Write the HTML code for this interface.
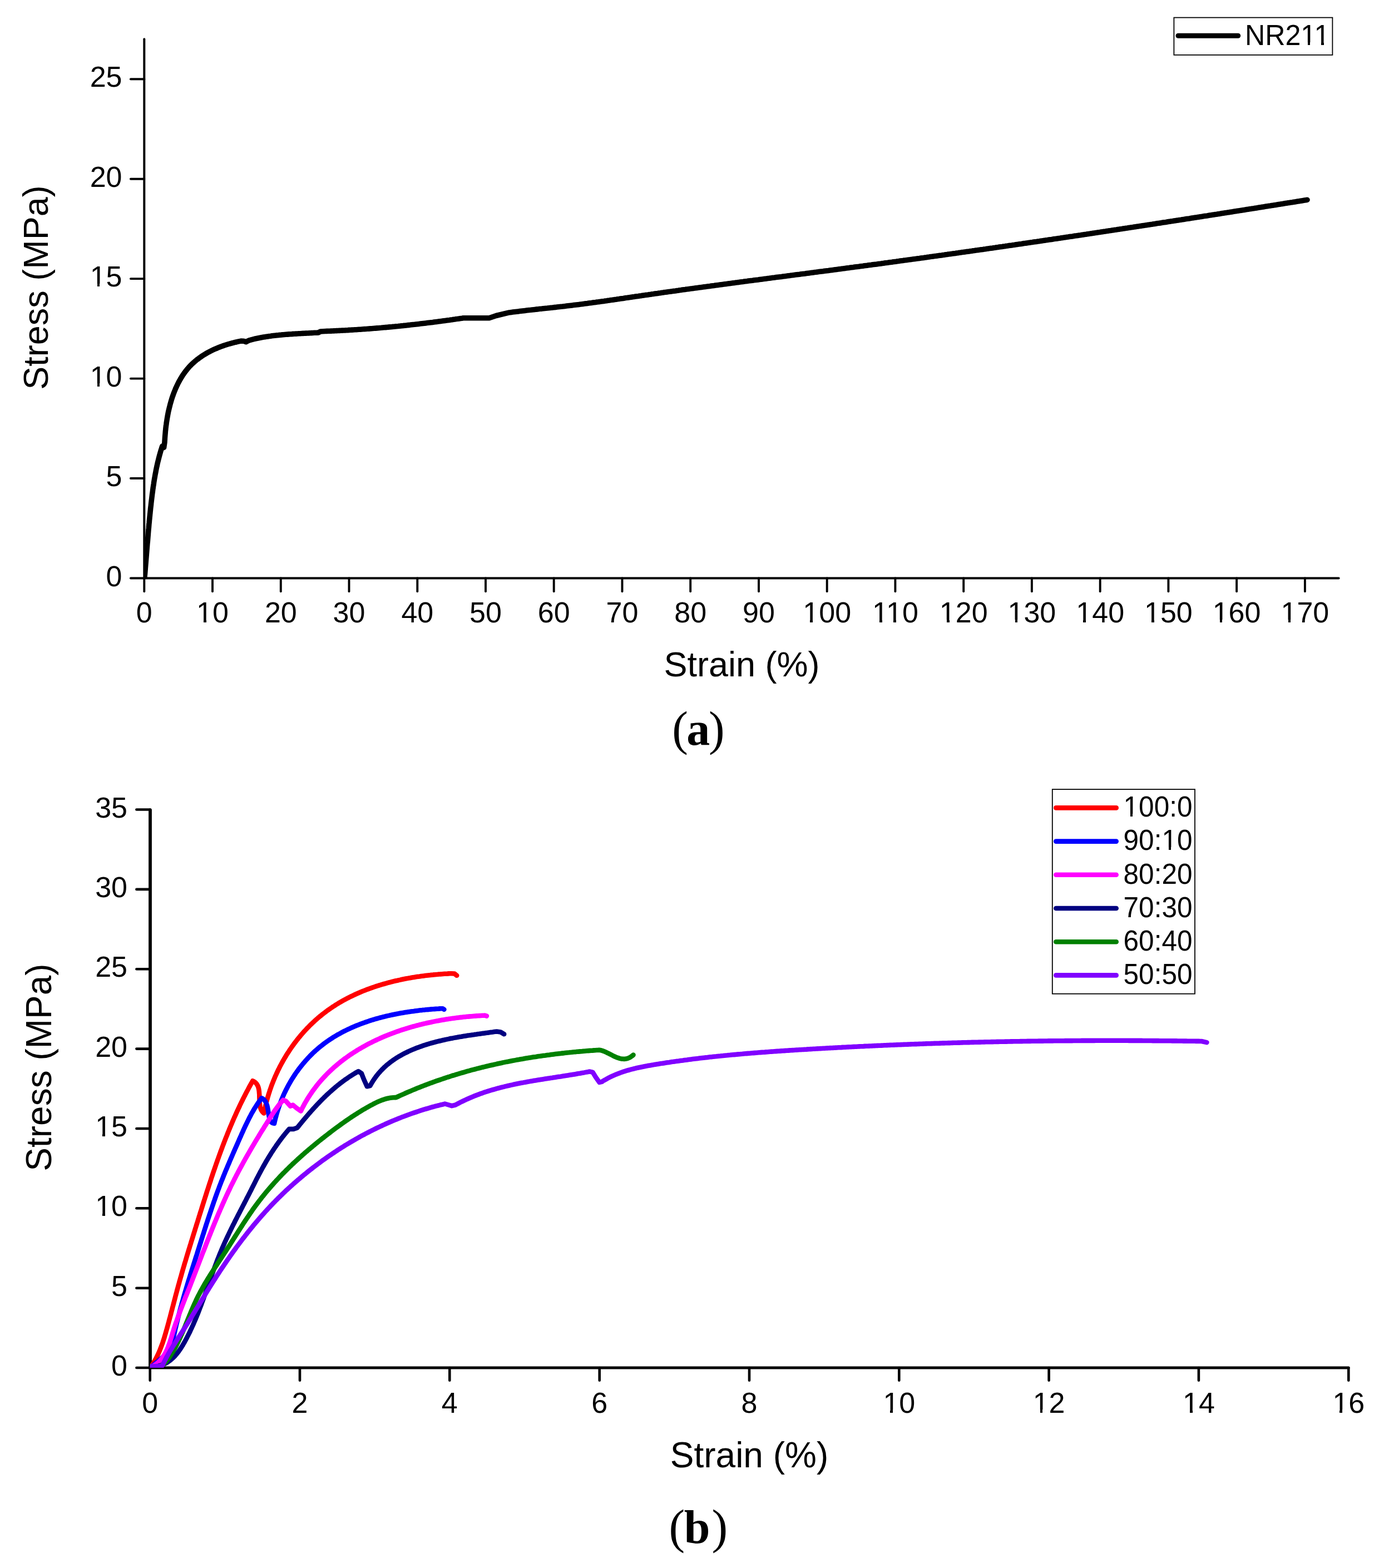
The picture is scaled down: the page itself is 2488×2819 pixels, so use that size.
<!DOCTYPE html><html><head><meta charset="utf-8"><title>Stress-strain curves</title>
<style>html,body{margin:0;padding:0;background:#fff;}svg{display:block;}.t{font-family:"Liberation Sans",Arial,sans-serif;fill:#000;}.c{font-family:"Liberation Serif","Times New Roman",serif;fill:#000;}</style></head><body>
<svg width="2488" height="2819" viewBox="0 0 2488 2819">
<rect width="2488" height="2819" fill="#fff"/>
<defs><clipPath id="ca"><rect x="259.3" y="40" width="2149.3" height="999.5"/></clipPath><clipPath id="cb"><rect x="269.7" y="1400" width="2164.5" height="1059.0"/></clipPath></defs>
<g id="chart-a">
<g stroke="#000" stroke-linecap="round" fill="none">
<line x1="259.3" y1="70.2" x2="259.3" y2="1039.5" stroke-width="4.0"/>
<line x1="259.3" y1="1039.5" x2="2406.6" y2="1039.5" stroke-width="4.0"/>
<line x1="234.9" y1="1039.5" x2="259.3" y2="1039.5" stroke-width="3.9"/>
<line x1="234.9" y1="860.0" x2="259.3" y2="860.0" stroke-width="3.9"/>
<line x1="234.9" y1="680.6" x2="259.3" y2="680.6" stroke-width="3.9"/>
<line x1="234.9" y1="501.1" x2="259.3" y2="501.1" stroke-width="3.9"/>
<line x1="234.9" y1="321.7" x2="259.3" y2="321.7" stroke-width="3.9"/>
<line x1="234.9" y1="142.2" x2="259.3" y2="142.2" stroke-width="3.9"/>
<line x1="259.3" y1="1039.5" x2="259.3" y2="1063.3" stroke-width="3.9"/>
<line x1="382.0" y1="1039.5" x2="382.0" y2="1063.3" stroke-width="3.9"/>
<line x1="504.8" y1="1039.5" x2="504.8" y2="1063.3" stroke-width="3.9"/>
<line x1="627.5" y1="1039.5" x2="627.5" y2="1063.3" stroke-width="3.9"/>
<line x1="750.3" y1="1039.5" x2="750.3" y2="1063.3" stroke-width="3.9"/>
<line x1="873.0" y1="1039.5" x2="873.0" y2="1063.3" stroke-width="3.9"/>
<line x1="995.7" y1="1039.5" x2="995.7" y2="1063.3" stroke-width="3.9"/>
<line x1="1118.5" y1="1039.5" x2="1118.5" y2="1063.3" stroke-width="3.9"/>
<line x1="1241.2" y1="1039.5" x2="1241.2" y2="1063.3" stroke-width="3.9"/>
<line x1="1364.0" y1="1039.5" x2="1364.0" y2="1063.3" stroke-width="3.9"/>
<line x1="1486.7" y1="1039.5" x2="1486.7" y2="1063.3" stroke-width="3.9"/>
<line x1="1609.4" y1="1039.5" x2="1609.4" y2="1063.3" stroke-width="3.9"/>
<line x1="1732.2" y1="1039.5" x2="1732.2" y2="1063.3" stroke-width="3.9"/>
<line x1="1854.9" y1="1039.5" x2="1854.9" y2="1063.3" stroke-width="3.9"/>
<line x1="1977.7" y1="1039.5" x2="1977.7" y2="1063.3" stroke-width="3.9"/>
<line x1="2100.4" y1="1039.5" x2="2100.4" y2="1063.3" stroke-width="3.9"/>
<line x1="2223.1" y1="1039.5" x2="2223.1" y2="1063.3" stroke-width="3.9"/>
<line x1="2345.9" y1="1039.5" x2="2345.9" y2="1063.3" stroke-width="3.9"/>
</g>
<text class="t" x="219.5" y="1053.5" font-size="52" text-anchor="end">0</text>
<text class="t" x="219.5" y="874.0" font-size="52" text-anchor="end">5</text>
<text class="t" x="219.5" y="694.6" font-size="52" text-anchor="end">10</text>
<text class="t" x="219.5" y="515.1" font-size="52" text-anchor="end">15</text>
<text class="t" x="219.5" y="335.7" font-size="52" text-anchor="end">20</text>
<text class="t" x="219.5" y="156.2" font-size="52" text-anchor="end">25</text>
<text class="t" x="259.3" y="1118.7" font-size="52" text-anchor="middle">0</text>
<text class="t" x="382.0" y="1118.7" font-size="52" text-anchor="middle">10</text>
<text class="t" x="504.8" y="1118.7" font-size="52" text-anchor="middle">20</text>
<text class="t" x="627.5" y="1118.7" font-size="52" text-anchor="middle">30</text>
<text class="t" x="750.3" y="1118.7" font-size="52" text-anchor="middle">40</text>
<text class="t" x="873.0" y="1118.7" font-size="52" text-anchor="middle">50</text>
<text class="t" x="995.7" y="1118.7" font-size="52" text-anchor="middle">60</text>
<text class="t" x="1118.5" y="1118.7" font-size="52" text-anchor="middle">70</text>
<text class="t" x="1241.2" y="1118.7" font-size="52" text-anchor="middle">80</text>
<text class="t" x="1364.0" y="1118.7" font-size="52" text-anchor="middle">90</text>
<text class="t" x="1486.7" y="1118.7" font-size="52" text-anchor="middle">100</text>
<text class="t" x="1609.4" y="1118.7" font-size="52" text-anchor="middle">110</text>
<text class="t" x="1732.2" y="1118.7" font-size="52" text-anchor="middle">120</text>
<text class="t" x="1854.9" y="1118.7" font-size="52" text-anchor="middle">130</text>
<text class="t" x="1977.7" y="1118.7" font-size="52" text-anchor="middle">140</text>
<text class="t" x="2100.4" y="1118.7" font-size="52" text-anchor="middle">150</text>
<text class="t" x="2223.1" y="1118.7" font-size="52" text-anchor="middle">160</text>
<text class="t" x="2345.9" y="1118.7" font-size="52" text-anchor="middle">170</text>
<polyline clip-path="url(#ca)" points="259.8,1039.0 260.0,1036.5 260.2,1034.1 260.5,1031.6 260.7,1029.1 260.9,1026.6 261.1,1024.2 261.3,1021.7 261.5,1019.2 261.7,1016.7 261.9,1014.2 262.1,1011.8 262.3,1009.3 262.5,1006.8 262.7,1004.3 262.9,1001.8 263.1,999.3 263.3,996.9 263.5,994.4 263.7,991.9 263.9,989.4 264.1,986.9 264.3,984.4 264.5,981.9 264.7,979.4 264.9,976.9 265.2,974.5 265.4,972.0 265.6,969.5 265.8,967.0 266.0,964.5 266.2,962.0 266.4,959.5 266.6,957.0 266.8,954.5 267.0,952.0 267.3,949.5 267.5,947.0 267.7,944.5 267.9,942.0 268.2,939.5 268.4,937.1 268.6,934.6 268.9,932.1 269.1,929.6 269.4,927.1 269.6,924.6 269.9,922.1 270.1,919.6 270.4,917.1 270.6,914.6 270.9,912.1 271.2,909.6 271.5,907.1 271.7,904.7 272.0,902.2 272.3,899.7 272.6,897.2 272.9,894.7 273.2,892.2 273.5,889.7 273.8,887.2 274.2,884.8 274.5,882.3 274.8,879.8 275.2,877.3 275.5,874.8 275.9,872.4 276.3,869.9 276.6,867.4 277.0,865.0 277.4,862.5 277.8,860.0 278.3,857.6 278.7,855.1 279.1,852.7 279.6,850.2 280.1,847.8 280.5,845.3 281.0,842.9 281.5,840.4 282.1,838.0 282.6,835.6 283.1,833.1 283.7,830.7 284.3,828.3 284.9,825.9 285.5,823.5 286.1,821.1 286.8,818.7 287.4,816.3 288.1,813.9 288.8,811.5 289.5,809.1 290.3,806.7 291.0,804.4 291.8,802.0 294.6,804.6 296.0,794.8 296.1,792.4 296.3,790.0 296.4,787.6 296.6,785.2 296.8,782.7 297.0,780.3 297.2,777.8 297.4,775.3 297.7,772.8 297.9,770.3 298.2,767.9 298.5,765.4 298.9,762.9 299.2,760.3 299.6,757.8 300.0,755.3 300.4,752.8 300.8,750.3 301.3,747.8 301.7,745.3 302.2,742.8 302.7,740.2 303.3,737.7 303.9,735.2 304.5,732.7 305.1,730.3 305.7,727.8 306.4,725.3 307.1,722.9 307.8,720.4 308.5,718.0 309.3,715.5 310.1,713.1 311.0,710.7 311.8,708.3 312.7,706.0 313.6,703.6 314.6,701.3 315.5,698.9 316.6,696.6 317.6,694.3 318.7,692.1 319.8,689.8 320.9,687.6 322.1,685.4 323.3,683.2 324.5,681.1 325.8,679.0 327.1,676.9 328.4,674.8 329.8,672.8 331.2,670.7 332.7,668.8 334.1,666.8 335.7,664.9 337.2,663.0 338.8,661.1 340.4,659.3 342.1,657.5 343.8,655.8 345.6,654.1 347.4,652.4 349.2,650.8 351.1,649.2 353.0,647.6 354.9,646.1 356.9,644.6 358.9,643.1 360.9,641.7 362.9,640.3 365.0,638.9 367.2,637.6 369.3,636.3 371.5,635.0 373.7,633.8 375.9,632.6 378.1,631.5 380.4,630.3 382.6,629.2 384.9,628.2 387.2,627.2 389.6,626.2 391.9,625.2 394.3,624.2 396.7,623.3 399.0,622.5 401.4,621.6 403.8,620.8 406.2,620.0 408.7,619.2 411.1,618.5 413.5,617.8 416.0,617.1 418.4,616.5 420.8,615.8 423.3,615.2 425.7,614.7 428.1,614.1 430.6,613.6 433.0,613.1 438.0,613.2 442.3,614.6 448.0,611.8 456.3,609.6 458.8,609.0 461.3,608.5 463.8,608.0 466.3,607.5 468.8,607.0 471.3,606.5 473.8,606.1 476.3,605.7 478.8,605.3 481.3,604.9 483.8,604.5 486.4,604.2 488.9,603.8 491.4,603.5 493.9,603.2 496.5,602.9 499.0,602.7 501.5,602.4 504.1,602.2 506.6,601.9 509.1,601.7 511.7,601.5 514.2,601.3 516.8,601.1 519.3,600.9 521.8,600.7 524.4,600.6 526.9,600.4 529.5,600.3 532.0,600.1 534.6,600.0 537.1,599.8 539.7,599.7 542.2,599.5 544.7,599.4 547.3,599.3 549.8,599.1 552.4,599.0 554.9,598.9 557.5,598.7 560.0,598.6 562.5,598.5 565.1,598.3 567.6,598.2 570.2,598.1 572.7,597.9 576.0,596.0 585.0,595.5 587.5,595.4 590.0,595.3 592.5,595.2 595.1,595.1 597.6,595.0 600.1,594.9 602.6,594.8 605.1,594.6 607.6,594.5 610.2,594.4 612.7,594.3 615.2,594.1 617.7,594.0 620.2,593.9 622.7,593.7 625.2,593.6 627.7,593.4 630.3,593.3 632.8,593.1 635.3,593.0 637.8,592.8 640.3,592.7 642.8,592.5 645.3,592.3 647.8,592.2 650.3,592.0 652.8,591.8 655.3,591.6 657.9,591.5 660.4,591.3 662.9,591.1 665.4,590.9 667.9,590.7 670.4,590.5 672.9,590.3 675.4,590.1 677.9,589.9 680.4,589.7 682.9,589.5 685.4,589.3 687.9,589.0 690.4,588.8 692.9,588.6 695.4,588.4 698.0,588.1 700.5,587.9 703.0,587.7 705.5,587.4 708.0,587.2 710.5,586.9 713.0,586.7 715.5,586.5 718.0,586.2 720.5,585.9 723.0,585.7 725.5,585.4 728.0,585.2 730.5,584.9 733.0,584.6 735.5,584.4 738.0,584.1 740.5,583.8 743.0,583.5 745.5,583.3 748.0,583.0 750.5,582.7 753.0,582.4 755.5,582.1 758.0,581.8 760.5,581.5 763.0,581.2 765.5,580.9 768.0,580.6 770.5,580.3 773.0,580.0 775.4,579.7 777.9,579.4 780.4,579.0 782.9,578.7 785.4,578.4 787.9,578.1 790.4,577.7 792.9,577.4 795.4,577.1 797.9,576.7 800.4,576.4 802.9,576.1 805.4,575.7 807.9,575.4 810.4,575.0 812.9,574.7 815.4,574.3 817.8,574.0 820.3,573.6 822.8,573.3 825.3,572.9 827.8,572.5 830.3,572.2 832.8,571.8 879.4,571.8 892.0,567.5 914.3,562.1 916.8,561.8 919.3,561.4 921.7,561.1 924.2,560.8 926.7,560.5 929.2,560.2 931.7,559.9 934.1,559.6 936.6,559.3 939.1,559.0 941.6,558.7 944.1,558.4 946.6,558.1 949.0,557.8 951.5,557.5 954.0,557.3 956.5,557.0 959.0,556.7 961.5,556.4 963.9,556.1 966.4,555.9 968.9,555.6 971.4,555.3 973.9,555.1 976.4,554.8 978.9,554.5 981.3,554.2 983.8,554.0 986.3,553.7 988.8,553.4 991.3,553.2 993.8,552.9 996.3,552.6 998.8,552.4 1001.2,552.1 1003.7,551.8 1006.2,551.5 1008.7,551.2 1011.2,551.0 1013.7,550.7 1016.1,550.4 1018.6,550.1 1021.1,549.8 1023.6,549.5 1026.1,549.2 1028.6,548.9 1031.0,548.6 1033.5,548.3 1036.0,548.0 1038.5,547.7 1041.0,547.4 1043.4,547.1 1045.9,546.8 1048.4,546.4 1050.9,546.1 1053.4,545.8 1055.8,545.5 1058.3,545.1 1060.8,544.8 1063.3,544.5 1065.8,544.1 1068.2,543.8 1070.7,543.5 1073.2,543.1 1075.7,542.8 1078.1,542.4 1080.6,542.1 1083.1,541.7 1085.6,541.4 1088.0,541.0 1090.5,540.7 1093.0,540.3 1095.5,540.0 1097.9,539.6 1100.4,539.3 1102.9,538.9 1105.4,538.5 1107.8,538.2 1110.3,537.8 1112.8,537.5 1115.2,537.1 1117.7,536.7 1120.2,536.4 1122.7,536.0 1125.1,535.6 1127.6,535.3 1130.1,534.9 1132.6,534.6 1135.0,534.2 1137.5,533.8 1140.0,533.5 1142.5,533.1 1144.9,532.7 1147.4,532.4 1149.9,532.0 1152.3,531.7 1154.8,531.3 1157.3,530.9 1159.8,530.6 1162.2,530.2 1164.7,529.9 1167.2,529.5 1169.7,529.2 1172.1,528.8 1174.6,528.5 1177.1,528.1 1179.6,527.7 1182.0,527.4 1184.5,527.0 1187.0,526.7 1189.5,526.3 1191.9,526.0 1194.4,525.6 1196.9,525.3 1199.4,524.9 1201.8,524.6 1204.3,524.3 1206.8,523.9 1209.3,523.6 1211.7,523.2 1214.2,522.9 1216.7,522.5 1219.2,522.2 1221.6,521.8 1224.1,521.5 1226.6,521.1 1229.1,520.8 1231.6,520.5 1234.0,520.1 1236.5,519.8 1239.0,519.4 1241.5,519.1 1243.9,518.8 1246.4,518.4 1248.9,518.1 1251.4,517.7 1253.8,517.4 1256.3,517.1 1258.8,516.7 1261.3,516.4 1263.7,516.1 1266.2,515.7 1268.7,515.4 1271.2,515.1 1273.7,514.7 1276.1,514.4 1278.6,514.0 1281.1,513.7 1283.6,513.4 1286.0,513.0 1288.5,512.7 1291.0,512.4 1293.5,512.1 1296.0,511.7 1298.4,511.4 1300.9,511.1 1303.4,510.7 1305.9,510.4 1308.3,510.1 1310.8,509.7 1313.3,509.4 1315.8,509.1 1318.3,508.7 1320.7,508.4 1323.2,508.1 1325.7,507.8 1328.2,507.4 1330.7,507.1 1333.1,506.8 1335.6,506.5 1338.1,506.1 1340.6,505.8 1343.0,505.5 1345.5,505.1 1348.0,504.8 1350.5,504.5 1353.0,504.2 1355.4,503.8 1357.9,503.5 1360.4,503.2 1362.9,502.9 1365.4,502.5 1367.8,502.2 1370.3,501.9 1372.8,501.6 1375.3,501.2 1377.8,500.9 1380.2,500.6 1382.7,500.3 1385.2,499.9 1387.7,499.6 1390.2,499.3 1392.6,499.0 1395.1,498.6 1397.6,498.3 1400.1,498.0 1402.5,497.7 1405.0,497.4 1407.5,497.0 1410.0,496.7 1412.5,496.4 1414.9,496.1 1417.4,495.7 1419.9,495.4 1422.4,495.1 1424.9,494.8 1427.3,494.4 1429.8,494.1 1432.3,493.8 1434.8,493.5 1437.3,493.2 1439.7,492.8 1442.2,492.5 1444.7,492.2 1447.2,491.9 1449.7,491.5 1452.1,491.2 1454.6,490.9 1457.1,490.6 1459.6,490.2 1462.1,489.9 1464.5,489.6 1467.0,489.3 1469.5,488.9 1472.0,488.6 1474.4,488.3 1476.9,488.0 1479.4,487.7 1481.9,487.3 1484.4,487.0 1486.8,486.7 1489.3,486.4 1491.8,486.0 1494.3,485.7 1496.8,485.4 1499.2,485.1 1501.7,484.7 1504.2,484.4 1506.7,484.1 1509.2,483.7 1511.6,483.4 1514.1,483.1 1516.6,482.8 1519.1,482.4 1521.5,482.1 1524.0,481.8 1526.5,481.5 1529.0,481.1 1531.5,480.8 1533.9,480.5 1536.4,480.1 1538.9,479.8 1541.4,479.5 1543.9,479.2 1546.3,478.8 1548.8,478.5 1551.3,478.2 1553.8,477.8 1556.2,477.5 1558.7,477.2 1561.2,476.8 1563.7,476.5 1566.2,476.2 1568.6,475.8 1571.1,475.5 1573.6,475.2 1576.1,474.9 1578.6,474.5 1581.0,474.2 1583.5,473.9 1586.0,473.5 1588.5,473.2 1590.9,472.8 1593.4,472.5 1595.9,472.2 1598.4,471.8 1600.9,471.5 1603.3,471.2 1605.8,470.8 1608.3,470.5 1610.8,470.2 1613.2,469.8 1615.7,469.5 1618.2,469.1 1620.7,468.8 1623.1,468.5 1625.6,468.1 1628.1,467.8 1630.6,467.4 1633.1,467.1 1635.5,466.8 1638.0,466.4 1640.5,466.1 1643.0,465.7 1645.4,465.4 1647.9,465.1 1650.4,464.7 1652.9,464.4 1655.3,464.0 1657.8,463.7 1660.3,463.4 1662.8,463.0 1665.3,462.7 1667.7,462.3 1670.2,462.0 1672.7,461.6 1675.2,461.3 1677.6,460.9 1680.1,460.6 1682.6,460.3 1685.1,459.9 1687.5,459.6 1690.0,459.2 1692.5,458.9 1695.0,458.5 1697.4,458.2 1699.9,457.8 1702.4,457.5 1704.9,457.1 1707.4,456.8 1709.8,456.4 1712.3,456.1 1714.8,455.7 1717.3,455.4 1719.7,455.0 1722.2,454.7 1724.7,454.3 1727.2,454.0 1729.6,453.6 1732.1,453.3 1734.6,452.9 1737.1,452.6 1739.5,452.2 1742.0,451.9 1744.5,451.5 1747.0,451.2 1749.4,450.8 1751.9,450.5 1754.4,450.1 1756.9,449.8 1759.3,449.4 1761.8,449.1 1764.3,448.7 1766.8,448.4 1769.2,448.0 1771.7,447.7 1774.2,447.3 1776.7,446.9 1779.1,446.6 1781.6,446.2 1784.1,445.9 1786.6,445.5 1789.0,445.2 1791.5,444.8 1794.0,444.5 1796.5,444.1 1798.9,443.7 1801.4,443.4 1803.9,443.0 1806.4,442.7 1808.8,442.3 1811.3,442.0 1813.8,441.6 1816.3,441.2 1818.7,440.9 1821.2,440.5 1823.7,440.2 1826.2,439.8 1828.6,439.4 1831.1,439.1 1833.6,438.7 1836.0,438.4 1838.5,438.0 1841.0,437.6 1843.5,437.3 1845.9,436.9 1848.4,436.6 1850.9,436.2 1853.4,435.8 1855.8,435.5 1858.3,435.1 1860.8,434.7 1863.3,434.4 1865.7,434.0 1868.2,433.7 1870.7,433.3 1873.2,432.9 1875.6,432.6 1878.1,432.2 1880.6,431.8 1883.0,431.5 1885.5,431.1 1888.0,430.7 1890.5,430.4 1892.9,430.0 1895.4,429.6 1897.9,429.3 1900.4,428.9 1902.8,428.5 1905.3,428.2 1907.8,427.8 1910.3,427.4 1912.7,427.1 1915.2,426.7 1917.7,426.3 1920.1,426.0 1922.6,425.6 1925.1,425.2 1927.6,424.9 1930.0,424.5 1932.5,424.1 1935.0,423.8 1937.5,423.4 1939.9,423.0 1942.4,422.7 1944.9,422.3 1947.3,421.9 1949.8,421.5 1952.3,421.2 1954.8,420.8 1957.2,420.4 1959.7,420.1 1962.2,419.7 1964.7,419.3 1967.1,418.9 1969.6,418.6 1972.1,418.2 1974.5,417.8 1977.0,417.5 1979.5,417.1 1982.0,416.7 1984.4,416.3 1986.9,416.0 1989.4,415.6 1991.8,415.2 1994.3,414.8 1996.8,414.5 1999.3,414.1 2001.7,413.7 2004.2,413.3 2006.7,413.0 2009.2,412.6 2011.6,412.2 2014.1,411.8 2016.6,411.5 2019.0,411.1 2021.5,410.7 2024.0,410.3 2026.5,410.0 2028.9,409.6 2031.4,409.2 2033.9,408.8 2036.3,408.5 2038.8,408.1 2041.3,407.7 2043.8,407.3 2046.2,406.9 2048.7,406.6 2051.2,406.2 2053.6,405.8 2056.1,405.4 2058.6,405.1 2061.1,404.7 2063.5,404.3 2066.0,403.9 2068.5,403.5 2070.9,403.2 2073.4,402.8 2075.9,402.4 2078.4,402.0 2080.8,401.6 2083.3,401.3 2085.8,400.9 2088.2,400.5 2090.7,400.1 2093.2,399.7 2095.6,399.4 2098.1,399.0 2100.6,398.6 2103.1,398.2 2105.5,397.8 2108.0,397.5 2110.5,397.1 2112.9,396.7 2115.4,396.3 2117.9,395.9 2120.4,395.5 2122.8,395.2 2125.3,394.8 2127.8,394.4 2130.2,394.0 2132.7,393.6 2135.2,393.2 2137.6,392.9 2140.1,392.5 2142.6,392.1 2145.1,391.7 2147.5,391.3 2150.0,390.9 2152.5,390.6 2154.9,390.2 2157.4,389.8 2159.9,389.4 2162.4,389.0 2164.8,388.6 2167.3,388.2 2169.8,387.9 2172.2,387.5 2174.7,387.1 2177.2,386.7 2179.6,386.3 2182.1,385.9 2184.6,385.5 2187.1,385.2 2189.5,384.8 2192.0,384.4 2194.5,384.0 2196.9,383.6 2199.4,383.2 2201.9,382.8 2204.3,382.4 2206.8,382.1 2209.3,381.7 2211.7,381.3 2214.2,380.9 2216.7,380.5 2219.2,380.1 2221.6,379.7 2224.1,379.3 2226.6,378.9 2229.0,378.6 2231.5,378.2 2234.0,377.8 2236.4,377.4 2238.9,377.0 2241.4,376.6 2243.9,376.2 2246.3,375.8 2248.8,375.4 2251.3,375.0 2253.7,374.7 2256.2,374.3 2258.7,373.9 2261.1,373.5 2263.6,373.1 2266.1,372.7 2268.5,372.3 2271.0,371.9 2273.5,371.5 2275.9,371.1 2278.4,370.7 2280.9,370.3 2283.4,370.0 2285.8,369.6 2288.3,369.2 2290.8,368.8 2293.2,368.4 2295.7,368.0 2298.2,367.6 2300.6,367.2 2303.1,366.8 2305.6,366.4 2308.0,366.0 2310.5,365.6 2313.0,365.2 2315.4,364.8 2317.9,364.4 2320.4,364.0 2322.9,363.7 2325.3,363.3 2327.8,362.9 2330.3,362.5 2332.7,362.1 2335.2,361.7 2337.7,361.3 2340.1,360.9 2342.6,360.5 2345.1,360.1 2347.5,359.7 2350.0,359.3" fill="none" stroke="#000" stroke-width="9.6" stroke-linejoin="round" stroke-linecap="round"/>
<text class="t" x="1333.5" y="1215.5" font-size="63" text-anchor="middle">Strain (%)</text>
<text class="t" transform="translate(85.5,517) rotate(-90)" x="0" y="0" font-size="63" text-anchor="middle">Stress (MPa)</text>
<rect x="2110.4" y="31.6" width="285" height="67.2" fill="none" stroke="#000" stroke-width="1.8"/>
<line x1="2118.0" y1="64.3" x2="2225.7" y2="64.3" stroke="#000" stroke-width="9.0" stroke-linecap="round"/>
<text class="t" transform="translate(2237.9,81.3) scale(1,1.02)" x="0" y="0" font-size="50.2">NR211</text>
</g>
<g id="chart-b">
<g stroke="#000" stroke-linecap="round" fill="none">
<line x1="270.0" y1="1456.2" x2="270.0" y2="2459.0" stroke-width="5.8"/>
<line x1="269.7" y1="2459.0" x2="2424.2" y2="2459.0" stroke-width="5.0"/>
<line x1="245.4" y1="2459.0" x2="269.7" y2="2459.0" stroke-width="4.6"/>
<line x1="245.4" y1="2315.7" x2="269.7" y2="2315.7" stroke-width="4.6"/>
<line x1="245.4" y1="2172.3" x2="269.7" y2="2172.3" stroke-width="4.6"/>
<line x1="245.4" y1="2029.0" x2="269.7" y2="2029.0" stroke-width="4.6"/>
<line x1="245.4" y1="1885.6" x2="269.7" y2="1885.6" stroke-width="4.6"/>
<line x1="245.4" y1="1742.2" x2="269.7" y2="1742.2" stroke-width="4.6"/>
<line x1="245.4" y1="1598.9" x2="269.7" y2="1598.9" stroke-width="4.6"/>
<line x1="245.4" y1="1455.5" x2="269.7" y2="1455.5" stroke-width="4.6"/>
<line x1="269.7" y1="2459.0" x2="269.7" y2="2481.7" stroke-width="4.6"/>
<line x1="539.0" y1="2459.0" x2="539.0" y2="2481.7" stroke-width="4.6"/>
<line x1="808.3" y1="2459.0" x2="808.3" y2="2481.7" stroke-width="4.6"/>
<line x1="1077.7" y1="2459.0" x2="1077.7" y2="2481.7" stroke-width="4.6"/>
<line x1="1347.0" y1="2459.0" x2="1347.0" y2="2481.7" stroke-width="4.6"/>
<line x1="1616.3" y1="2459.0" x2="1616.3" y2="2481.7" stroke-width="4.6"/>
<line x1="1885.6" y1="2459.0" x2="1885.6" y2="2481.7" stroke-width="4.6"/>
<line x1="2154.9" y1="2459.0" x2="2154.9" y2="2481.7" stroke-width="4.6"/>
<line x1="2424.3" y1="2459.0" x2="2424.3" y2="2481.7" stroke-width="4.6"/>
</g>
<text class="t" x="229.0" y="2473.0" font-size="52" text-anchor="end">0</text>
<text class="t" x="229.0" y="2329.7" font-size="52" text-anchor="end">5</text>
<text class="t" x="229.0" y="2186.3" font-size="52" text-anchor="end">10</text>
<text class="t" x="229.0" y="2043.0" font-size="52" text-anchor="end">15</text>
<text class="t" x="229.0" y="1899.6" font-size="52" text-anchor="end">20</text>
<text class="t" x="229.0" y="1756.2" font-size="52" text-anchor="end">25</text>
<text class="t" x="229.0" y="1612.9" font-size="52" text-anchor="end">30</text>
<text class="t" x="229.0" y="1469.5" font-size="52" text-anchor="end">35</text>
<text class="t" x="269.7" y="2539.5" font-size="52" text-anchor="middle">0</text>
<text class="t" x="539.0" y="2539.5" font-size="52" text-anchor="middle">2</text>
<text class="t" x="808.3" y="2539.5" font-size="52" text-anchor="middle">4</text>
<text class="t" x="1077.7" y="2539.5" font-size="52" text-anchor="middle">6</text>
<text class="t" x="1347.0" y="2539.5" font-size="52" text-anchor="middle">8</text>
<text class="t" x="1616.3" y="2539.5" font-size="52" text-anchor="middle">10</text>
<text class="t" x="1885.6" y="2539.5" font-size="52" text-anchor="middle">12</text>
<text class="t" x="2154.9" y="2539.5" font-size="52" text-anchor="middle">14</text>
<text class="t" x="2424.3" y="2539.5" font-size="52" text-anchor="middle">16</text>
<polyline clip-path="url(#cb)" points="271.5,2457.0 272.9,2455.0 274.3,2452.9 275.6,2450.8 276.8,2448.7 278.1,2446.6 279.3,2444.5 280.4,2442.3 281.5,2440.1 282.6,2437.9 283.7,2435.7 284.7,2433.5 285.7,2431.3 286.7,2429.0 287.6,2426.7 288.5,2424.4 289.4,2422.1 290.3,2419.8 291.1,2417.5 292.0,2415.2 292.8,2412.8 293.5,2410.5 294.3,2408.1 295.1,2405.7 295.8,2403.3 296.5,2400.9 297.2,2398.6 297.9,2396.2 298.6,2393.7 299.3,2391.3 300.0,2388.9 300.7,2386.5 301.3,2384.1 302.0,2381.7 302.6,2379.3 303.3,2376.8 303.9,2374.4 304.6,2372.0 305.2,2369.6 305.9,2367.1 306.5,2364.7 307.2,2362.3 307.8,2359.8 308.4,2357.4 309.1,2355.0 309.7,2352.5 310.3,2350.1 311.0,2347.7 311.6,2345.2 312.3,2342.8 312.9,2340.4 313.5,2338.0 314.2,2335.5 314.8,2333.1 315.4,2330.7 316.1,2328.2 316.7,2325.8 317.4,2323.4 318.0,2321.0 318.7,2318.5 319.3,2316.1 320.0,2313.7 320.6,2311.3 321.3,2308.9 322.0,2306.5 322.6,2304.0 323.3,2301.6 324.0,2299.2 324.7,2296.8 325.4,2294.4 326.1,2292.0 326.7,2289.6 327.4,2287.2 328.1,2284.8 328.8,2282.4 329.5,2280.0 330.2,2277.6 330.9,2275.2 331.6,2272.8 332.3,2270.4 333.1,2268.0 333.8,2265.6 334.5,2263.3 335.2,2260.9 335.9,2258.5 336.6,2256.1 337.4,2253.7 338.1,2251.3 338.8,2248.9 339.5,2246.5 340.3,2244.2 341.0,2241.8 341.7,2239.4 342.5,2237.0 343.2,2234.6 343.9,2232.2 344.7,2229.9 345.4,2227.5 346.2,2225.1 346.9,2222.7 347.6,2220.3 348.4,2217.9 349.1,2215.6 349.9,2213.2 350.6,2210.8 351.3,2208.4 352.1,2206.0 352.8,2203.6 353.6,2201.2 354.3,2198.9 355.1,2196.5 355.8,2194.1 356.5,2191.7 357.3,2189.3 358.0,2186.9 358.8,2184.5 359.5,2182.1 360.3,2179.7 361.0,2177.4 361.8,2175.0 362.5,2172.6 363.3,2170.2 364.0,2167.8 364.8,2165.4 365.5,2163.0 366.3,2160.6 367.0,2158.2 367.8,2155.9 368.5,2153.5 369.3,2151.1 370.1,2148.7 370.8,2146.3 371.6,2143.9 372.3,2141.5 373.1,2139.1 373.9,2136.8 374.7,2134.4 375.4,2132.0 376.2,2129.6 377.0,2127.2 377.8,2124.8 378.6,2122.5 379.3,2120.1 380.1,2117.7 380.9,2115.3 381.7,2113.0 382.5,2110.6 383.3,2108.2 384.1,2105.8 384.9,2103.5 385.8,2101.1 386.6,2098.7 387.4,2096.4 388.2,2094.0 389.0,2091.6 389.9,2089.3 390.7,2086.9 391.5,2084.5 392.4,2082.2 393.2,2079.8 394.1,2077.5 394.9,2075.1 395.8,2072.8 396.6,2070.4 397.5,2068.1 398.4,2065.7 399.3,2063.4 400.1,2061.0 401.0,2058.7 401.9,2056.4 402.8,2054.0 403.7,2051.7 404.6,2049.4 405.5,2047.0 406.4,2044.7 407.4,2042.4 408.3,2040.1 409.2,2037.7 410.1,2035.4 411.1,2033.1 412.0,2030.8 413.0,2028.5 413.9,2026.2 414.9,2023.9 415.9,2021.6 416.9,2019.3 417.8,2017.0 418.8,2014.7 419.8,2012.4 420.8,2010.1 421.8,2007.8 422.9,2005.6 423.9,2003.3 424.9,2001.0 425.9,1998.7 427.0,1996.5 428.0,1994.2 429.1,1992.0 430.2,1989.7 431.2,1987.4 432.3,1985.2 433.4,1982.9 434.5,1980.7 435.6,1978.5 436.7,1976.2 437.8,1974.0 438.9,1971.8 440.1,1969.6 441.2,1967.3 442.4,1965.1 443.5,1962.9 444.7,1960.7 445.9,1958.5 447.0,1956.3 448.2,1954.1 449.4,1951.9 450.6,1949.7 451.8,1947.5 453.1,1945.4 454.3,1943.2 456.6,1944.4 458.6,1945.8 460.3,1947.4 461.7,1949.2 462.9,1951.2 463.9,1953.3 464.6,1955.6 465.2,1958.0 465.6,1960.5 465.9,1963.1 466.1,1965.8 466.3,1968.5 466.3,1971.2 466.4,1973.9 466.5,1976.7 466.6,1979.4 466.7,1982.1 466.9,1984.7 467.3,1987.3 467.7,1989.7 468.3,1992.1 469.1,1994.3 470.1,1996.4 471.3,1998.3 472.8,2000.0 474.5,2001.5 475.0,1999.0 475.5,1996.6 476.0,1994.1 476.5,1991.6 477.1,1989.2 477.6,1986.7 478.2,1984.3 478.8,1981.8 479.5,1979.4 480.1,1977.0 480.8,1974.5 481.5,1972.1 482.2,1969.7 482.9,1967.3 483.7,1964.9 484.5,1962.5 485.2,1960.1 486.1,1957.7 486.9,1955.4 487.7,1953.0 488.6,1950.6 489.5,1948.3 490.4,1945.9 491.3,1943.6 492.3,1941.3 493.3,1938.9 494.2,1936.6 495.2,1934.3 496.3,1932.0 497.3,1929.7 498.4,1927.5 499.4,1925.2 500.5,1922.9 501.7,1920.7 502.8,1918.4 503.9,1916.2 505.1,1914.0 506.3,1911.8 507.5,1909.6 508.7,1907.4 510.0,1905.2 511.2,1903.0 512.5,1900.9 513.8,1898.7 515.1,1896.6 516.4,1894.5 517.8,1892.4 519.2,1890.3 520.5,1888.2 521.9,1886.1 523.3,1884.1 524.8,1882.0 526.2,1880.0 527.7,1877.9 529.2,1875.9 530.7,1873.9 532.2,1872.0 533.7,1870.0 535.3,1868.0 536.8,1866.1 538.4,1864.2 540.0,1862.2 541.6,1860.3 543.2,1858.5 544.9,1856.6 546.5,1854.7 548.2,1852.9 549.9,1851.1 551.6,1849.3 553.3,1847.5 555.1,1845.7 556.8,1843.9 558.6,1842.2 560.4,1840.5 562.2,1838.7 564.0,1837.1 565.8,1835.4 567.6,1833.7 569.5,1832.1 571.4,1830.4 573.3,1828.8 575.1,1827.2 577.1,1825.7 579.0,1824.1 580.9,1822.6 582.9,1821.1 584.9,1819.6 586.8,1818.1 588.8,1816.6 590.9,1815.2 592.9,1813.8 594.9,1812.4 597.0,1811.0 599.0,1809.6 601.1,1808.3 603.2,1806.9 605.3,1805.6 607.4,1804.3 609.5,1803.0 611.7,1801.8 613.8,1800.5 616.0,1799.3 618.2,1798.1 620.3,1796.9 622.5,1795.8 624.7,1794.6 627.0,1793.5 629.2,1792.3 631.4,1791.2 633.7,1790.2 635.9,1789.1 638.2,1788.0 640.4,1787.0 642.7,1786.0 645.0,1785.0 647.3,1784.0 649.6,1783.0 651.9,1782.1 654.3,1781.1 656.6,1780.2 658.9,1779.3 661.3,1778.4 663.7,1777.6 666.0,1776.7 668.4,1775.9 670.8,1775.0 673.1,1774.2 675.5,1773.4 677.9,1772.6 680.3,1771.9 682.7,1771.1 685.2,1770.4 687.6,1769.7 690.0,1769.0 692.4,1768.3 694.9,1767.6 697.3,1766.9 699.8,1766.3 702.2,1765.6 704.7,1765.0 707.1,1764.4 709.6,1763.8 712.0,1763.2 714.5,1762.7 717.0,1762.1 719.5,1761.6 721.9,1761.0 724.4,1760.5 726.9,1760.0 729.4,1759.5 731.9,1759.1 734.4,1758.6 736.9,1758.2 739.3,1757.7 741.8,1757.3 744.3,1756.9 746.8,1756.5 749.3,1756.1 751.8,1755.7 754.3,1755.4 756.8,1755.0 759.3,1754.7 761.8,1754.4 764.3,1754.1 766.8,1753.8 769.3,1753.5 771.8,1753.2 774.3,1752.9 776.8,1752.7 779.3,1752.4 781.8,1752.2 784.3,1752.0 786.8,1751.8 789.3,1751.5 791.7,1751.4 794.2,1751.2 796.7,1751.0 799.2,1750.8 801.6,1750.7 804.1,1750.6 806.6,1750.4 809.0,1750.3 811.5,1750.2 817.0,1750.5 821.2,1753.8" fill="none" stroke="#ff0000" stroke-width="8.6" stroke-linejoin="round" stroke-linecap="round"/>
<polyline clip-path="url(#cb)" points="272.0,2457.0 273.8,2455.6 275.7,2454.1 277.6,2452.6 279.5,2451.0 281.4,2449.4 283.4,2447.8 285.3,2446.1 287.3,2444.4 289.3,2442.7 291.2,2440.9 293.2,2439.1 295.0,2437.3 296.8,2435.5 298.6,2433.6 300.2,2431.7 301.7,2429.7 303.0,2427.6 304.3,2425.5 305.4,2423.4 306.5,2421.2 307.4,2418.9 308.3,2416.7 309.1,2414.4 309.9,2412.0 310.5,2409.6 311.2,2407.3 311.8,2404.8 312.3,2402.4 312.9,2400.0 313.4,2397.6 314.0,2395.1 314.5,2392.7 315.0,2390.2 315.6,2387.8 316.2,2385.3 316.7,2382.9 317.3,2380.5 317.9,2378.0 318.5,2375.6 319.1,2373.2 319.7,2370.8 320.3,2368.3 320.9,2365.9 321.5,2363.5 322.2,2361.1 322.8,2358.6 323.4,2356.2 324.1,2353.8 324.7,2351.4 325.4,2349.0 326.1,2346.6 326.7,2344.2 327.4,2341.8 328.1,2339.3 328.8,2336.9 329.4,2334.5 330.1,2332.1 330.8,2329.7 331.5,2327.3 332.2,2324.9 332.9,2322.5 333.7,2320.1 334.4,2317.7 335.1,2315.3 335.8,2312.9 336.5,2310.5 337.3,2308.1 338.0,2305.7 338.7,2303.3 339.5,2300.9 340.2,2298.5 341.0,2296.1 341.7,2293.7 342.4,2291.3 343.2,2289.0 343.9,2286.6 344.7,2284.2 345.4,2281.8 346.2,2279.4 346.9,2277.0 347.7,2274.6 348.5,2272.2 349.2,2269.8 350.0,2267.4 350.7,2265.0 351.5,2262.6 352.2,2260.2 353.0,2257.9 353.8,2255.5 354.5,2253.1 355.3,2250.7 356.0,2248.3 356.8,2245.9 357.5,2243.5 358.3,2241.1 359.0,2238.7 359.8,2236.3 360.6,2233.9 361.3,2231.5 362.1,2229.1 362.8,2226.7 363.6,2224.3 364.3,2221.9 365.1,2219.6 365.9,2217.2 366.6,2214.8 367.4,2212.4 368.1,2210.0 368.9,2207.6 369.7,2205.2 370.4,2202.8 371.2,2200.4 372.0,2198.0 372.8,2195.7 373.5,2193.3 374.3,2190.9 375.1,2188.5 375.9,2186.1 376.7,2183.7 377.5,2181.4 378.3,2179.0 379.1,2176.6 379.9,2174.2 380.7,2171.9 381.5,2169.5 382.3,2167.1 383.1,2164.8 383.9,2162.4 384.7,2160.0 385.6,2157.7 386.4,2155.3 387.2,2153.0 388.1,2150.6 388.9,2148.2 389.8,2145.9 390.6,2143.5 391.5,2141.2 392.4,2138.8 393.3,2136.5 394.1,2134.2 395.0,2131.8 395.9,2129.5 396.8,2127.2 397.7,2124.8 398.6,2122.5 399.6,2120.2 400.5,2117.9 401.4,2115.6 402.3,2113.2 403.3,2110.9 404.2,2108.6 405.2,2106.3 406.1,2104.0 407.1,2101.7 408.1,2099.4 409.0,2097.1 410.0,2094.8 411.0,2092.5 412.0,2090.2 412.9,2087.9 413.9,2085.6 414.9,2083.3 415.9,2081.0 416.9,2078.7 417.9,2076.4 418.9,2074.1 419.9,2071.8 420.9,2069.5 421.9,2067.2 422.9,2064.9 424.0,2062.6 425.0,2060.3 426.0,2058.0 427.0,2055.7 428.0,2053.4 429.0,2051.1 430.0,2048.8 431.0,2046.5 432.1,2044.2 433.1,2041.9 434.1,2039.6 435.1,2037.3 436.2,2035.0 437.2,2032.7 438.2,2030.4 439.3,2028.2 440.3,2025.9 441.4,2023.6 442.5,2021.3 443.6,2019.1 444.7,2016.8 445.8,2014.6 446.9,2012.3 448.0,2010.1 449.2,2007.9 450.4,2005.7 451.5,2003.5 452.7,2001.3 454.0,1999.1 455.2,1997.0 456.5,1994.8 457.7,1992.7 459.1,1990.6 460.4,1988.5 461.7,1986.4 463.1,1984.3 464.5,1982.3 465.9,1980.3 467.4,1978.3 468.9,1976.3 470.4,1974.3 472.5,1975.4 474.4,1976.9 476.0,1978.6 477.3,1980.5 478.4,1982.7 479.3,1985.0 480.1,1987.4 480.8,1990.0 481.3,1992.7 481.8,1995.4 482.2,1998.2 482.6,2000.9 483.0,2003.7 483.5,2006.3 484.0,2008.9 484.6,2011.3 485.4,2013.6 486.4,2015.5 487.6,2017.2 489.1,2018.5 490.9,2019.3 493.1,2019.7 493.6,2017.2 494.2,2014.8 494.8,2012.3 495.4,2009.8 496.1,2007.4 496.7,2004.9 497.4,2002.5 498.1,2000.1 498.8,1997.7 499.6,1995.3 500.4,1992.8 501.2,1990.5 502.0,1988.1 502.9,1985.7 503.8,1983.3 504.7,1981.0 505.6,1978.6 506.5,1976.3 507.5,1973.9 508.5,1971.6 509.5,1969.3 510.5,1967.0 511.6,1964.7 512.7,1962.5 513.8,1960.2 514.9,1958.0 516.1,1955.7 517.2,1953.5 518.4,1951.3 519.6,1949.1 520.9,1946.9 522.1,1944.7 523.4,1942.6 524.7,1940.4 526.0,1938.3 527.4,1936.2 528.7,1934.1 530.1,1932.0 531.5,1929.9 532.9,1927.9 534.4,1925.8 535.9,1923.8 537.3,1921.8 538.8,1919.8 540.4,1917.9 541.9,1915.9 543.5,1914.0 545.1,1912.1 546.7,1910.2 548.3,1908.3 549.9,1906.4 551.6,1904.6 553.3,1902.7 555.0,1900.9 556.7,1899.1 558.4,1897.4 560.2,1895.6 561.9,1893.9 563.7,1892.2 565.5,1890.5 567.3,1888.8 569.2,1887.2 571.0,1885.6 572.9,1884.0 574.8,1882.4 576.7,1880.9 578.7,1879.3 580.6,1877.8 582.6,1876.3 584.5,1874.8 586.5,1873.4 588.6,1872.0 590.6,1870.6 592.6,1869.2 594.7,1867.8 596.8,1866.5 598.8,1865.2 600.9,1863.9 603.1,1862.6 605.2,1861.3 607.3,1860.1 609.5,1858.9 611.7,1857.7 613.8,1856.5 616.0,1855.3 618.2,1854.2 620.5,1853.1 622.7,1852.0 624.9,1850.9 627.2,1849.8 629.4,1848.8 631.7,1847.7 634.0,1846.7 636.3,1845.7 638.6,1844.8 640.9,1843.8 643.2,1842.9 645.6,1842.0 647.9,1841.1 650.3,1840.2 652.6,1839.3 655.0,1838.5 657.4,1837.6 659.8,1836.8 662.2,1836.0 664.6,1835.2 667.0,1834.4 669.4,1833.7 671.8,1833.0 674.2,1832.2 676.7,1831.5 679.1,1830.8 681.5,1830.2 684.0,1829.5 686.4,1828.9 688.9,1828.2 691.4,1827.6 693.8,1827.0 696.3,1826.4 698.8,1825.9 701.2,1825.3 703.7,1824.8 706.2,1824.2 708.7,1823.7 711.2,1823.2 713.7,1822.7 716.2,1822.3 718.7,1821.8 721.2,1821.3 723.7,1820.9 726.2,1820.5 728.7,1820.1 731.2,1819.7 733.7,1819.3 736.2,1818.9 738.7,1818.5 741.2,1818.2 743.7,1817.9 746.2,1817.5 748.7,1817.2 751.2,1816.9 753.7,1816.6 756.1,1816.3 758.6,1816.1 761.1,1815.8 763.6,1815.6 766.1,1815.3 768.6,1815.1 771.0,1814.9 773.5,1814.6 776.0,1814.4 778.4,1814.3 780.9,1814.1 783.3,1813.9 785.8,1813.7 788.2,1813.6 790.7,1813.4 793.1,1813.3 796.0,1813.3 798.4,1814.8" fill="none" stroke="#0000ff" stroke-width="8.6" stroke-linejoin="round" stroke-linecap="round"/>
<polyline clip-path="url(#cb)" points="273.0,2457.0 275.4,2455.7 277.6,2454.4 279.8,2453.0 281.8,2451.4 283.8,2449.9 285.6,2448.2 287.3,2446.5 289.0,2444.7 290.6,2442.8 292.0,2440.9 293.4,2438.9 294.7,2436.9 296.0,2434.8 297.2,2432.6 298.3,2430.5 299.4,2428.2 300.4,2426.0 301.4,2423.7 302.3,2421.4 303.2,2419.0 304.0,2416.6 304.9,2414.2 305.7,2411.8 306.4,2409.4 307.2,2407.0 308.0,2404.5 308.7,2402.1 309.4,2399.6 310.2,2397.2 310.9,2394.7 311.7,2392.3 312.4,2389.8 313.2,2387.4 314.0,2385.0 314.8,2382.6 315.6,2380.2 316.4,2377.8 317.3,2375.4 318.1,2373.0 318.9,2370.7 319.8,2368.3 320.6,2365.9 321.5,2363.6 322.4,2361.2 323.2,2358.9 324.1,2356.6 325.0,2354.2 325.9,2351.9 326.8,2349.6 327.7,2347.2 328.6,2344.9 329.5,2342.6 330.4,2340.3 331.3,2337.9 332.2,2335.6 333.1,2333.3 334.0,2331.0 335.0,2328.7 335.9,2326.4 336.8,2324.1 337.7,2321.8 338.6,2319.4 339.6,2317.1 340.5,2314.8 341.4,2312.5 342.3,2310.2 343.2,2307.8 344.1,2305.5 345.0,2303.2 345.9,2300.9 346.8,2298.5 347.7,2296.2 348.6,2293.9 349.5,2291.5 350.4,2289.2 351.3,2286.9 352.2,2284.5 353.1,2282.2 354.0,2279.9 354.9,2277.5 355.8,2275.2 356.7,2272.9 357.6,2270.5 358.5,2268.2 359.4,2265.8 360.3,2263.5 361.2,2261.2 362.1,2258.8 363.0,2256.5 363.9,2254.1 364.8,2251.8 365.8,2249.4 366.7,2247.1 367.6,2244.8 368.5,2242.4 369.4,2240.1 370.3,2237.7 371.2,2235.4 372.1,2233.1 373.0,2230.7 374.0,2228.4 374.9,2226.0 375.8,2223.7 376.7,2221.4 377.7,2219.0 378.6,2216.7 379.5,2214.4 380.5,2212.0 381.4,2209.7 382.3,2207.4 383.3,2205.0 384.2,2202.7 385.2,2200.4 386.1,2198.0 387.1,2195.7 388.1,2193.4 389.0,2191.1 390.0,2188.8 391.0,2186.4 391.9,2184.1 392.9,2181.8 393.9,2179.5 394.9,2177.2 395.9,2174.9 396.9,2172.6 397.9,2170.3 398.9,2168.0 399.9,2165.7 400.9,2163.4 402.0,2161.1 403.0,2158.8 404.0,2156.5 405.1,2154.2 406.1,2151.9 407.1,2149.7 408.2,2147.4 409.3,2145.1 410.3,2142.8 411.4,2140.6 412.5,2138.3 413.6,2136.0 414.6,2133.8 415.7,2131.5 416.8,2129.3 418.0,2127.0 419.1,2124.8 420.2,2122.6 421.3,2120.3 422.5,2118.1 423.6,2115.9 424.8,2113.6 425.9,2111.4 427.1,2109.2 428.2,2107.0 429.4,2104.8 430.6,2102.5 431.8,2100.3 433.0,2098.1 434.2,2095.9 435.4,2093.7 436.6,2091.5 437.8,2089.3 439.0,2087.2 440.2,2085.0 441.4,2082.8 442.7,2080.6 443.9,2078.4 445.2,2076.2 446.4,2074.1 447.7,2071.9 448.9,2069.7 450.2,2067.6 451.4,2065.4 452.7,2063.2 454.0,2061.1 455.3,2058.9 456.5,2056.8 457.8,2054.6 459.1,2052.4 460.4,2050.3 461.7,2048.1 463.0,2046.0 464.3,2043.9 465.6,2041.7 466.9,2039.6 468.2,2037.4 469.5,2035.3 470.8,2033.1 472.2,2031.0 473.5,2028.9 474.8,2026.7 476.1,2024.6 477.5,2022.5 478.8,2020.4 480.1,2018.2 481.5,2016.1 482.8,2014.0 484.1,2011.8 485.5,2009.7 486.8,2007.6 488.2,2005.5 489.5,2003.4 490.9,2001.3 492.3,1999.2 493.7,1997.1 495.1,1995.0 496.6,1993.0 498.0,1991.0 499.5,1989.0 501.0,1987.0 502.6,1985.1 504.2,1983.1 505.8,1981.3 507.5,1979.4 509.2,1977.6 514.2,1979.8 522.0,1988.7 526.4,1986.5 533.0,1992.0 540.8,1997.6 541.9,1995.3 543.1,1992.9 544.3,1990.6 545.5,1988.4 546.7,1986.1 547.9,1983.8 549.2,1981.6 550.5,1979.4 551.8,1977.2 553.1,1975.0 554.4,1972.9 555.8,1970.8 557.2,1968.6 558.6,1966.6 560.0,1964.5 561.4,1962.4 562.9,1960.4 564.4,1958.3 565.9,1956.3 567.4,1954.4 568.9,1952.4 570.4,1950.4 572.0,1948.5 573.6,1946.6 575.2,1944.7 576.8,1942.8 578.5,1940.9 580.1,1939.1 581.8,1937.3 583.5,1935.5 585.2,1933.7 586.9,1931.9 588.6,1930.1 590.4,1928.4 592.2,1926.7 593.9,1925.0 595.7,1923.3 597.6,1921.6 599.4,1919.9 601.2,1918.3 603.1,1916.7 605.0,1915.1 606.9,1913.5 608.8,1911.9 610.7,1910.4 612.6,1908.8 614.6,1907.3 616.5,1905.8 618.5,1904.3 620.5,1902.8 622.5,1901.4 624.5,1899.9 626.5,1898.5 628.5,1897.1 630.6,1895.7 632.7,1894.3 634.7,1893.0 636.8,1891.6 638.9,1890.3 641.0,1889.0 643.1,1887.7 645.3,1886.4 647.4,1885.1 649.6,1883.9 651.7,1882.6 653.9,1881.4 656.1,1880.2 658.3,1879.0 660.5,1877.8 662.7,1876.6 664.9,1875.5 667.2,1874.4 669.4,1873.2 671.7,1872.1 673.9,1871.0 676.2,1870.0 678.5,1868.9 680.8,1867.9 683.1,1866.8 685.4,1865.8 687.7,1864.8 690.0,1863.8 692.3,1862.8 694.7,1861.9 697.0,1860.9 699.4,1860.0 701.7,1859.1 704.1,1858.2 706.5,1857.3 708.8,1856.4 711.2,1855.5 713.6,1854.7 716.0,1853.9 718.4,1853.0 720.8,1852.2 723.2,1851.4 725.7,1850.6 728.1,1849.9 730.5,1849.1 732.9,1848.4 735.4,1847.6 737.8,1846.9 740.3,1846.2 742.7,1845.5 745.2,1844.8 747.6,1844.2 750.1,1843.5 752.6,1842.9 755.0,1842.2 757.5,1841.6 760.0,1841.0 762.5,1840.4 764.9,1839.9 767.4,1839.3 769.9,1838.7 772.4,1838.2 774.9,1837.7 777.4,1837.1 779.9,1836.6 782.4,1836.1 784.9,1835.6 787.3,1835.2 789.8,1834.7 792.3,1834.3 794.8,1833.8 797.3,1833.4 799.8,1833.0 802.3,1832.6 804.8,1832.2 807.3,1831.8 809.8,1831.4 812.3,1831.1 814.8,1830.7 817.3,1830.4 819.8,1830.1 822.3,1829.7 824.8,1829.4 827.3,1829.1 829.8,1828.9 832.3,1828.6 834.7,1828.3 837.2,1828.1 839.7,1827.8 842.2,1827.6 844.6,1827.4 847.1,1827.2 849.6,1827.0 852.0,1826.8 854.5,1826.6 857.0,1826.4 859.4,1826.3 861.9,1826.1 864.3,1826.0 866.7,1825.8 869.2,1825.7 871.6,1825.6 874.9,1826.6" fill="none" stroke="#ff00ff" stroke-width="8.6" stroke-linejoin="round" stroke-linecap="round"/>
<polyline clip-path="url(#cb)" points="272.0,2457.0 274.8,2457.0 277.5,2456.8 280.2,2456.5 282.7,2456.1 285.2,2455.6 287.7,2455.0 290.0,2454.3 292.3,2453.4 294.5,2452.5 296.7,2451.5 298.8,2450.4 300.9,2449.2 302.8,2447.9 304.8,2446.5 306.7,2445.1 308.5,2443.5 310.3,2441.9 312.0,2440.3 313.7,2438.6 315.3,2436.8 316.9,2434.9 318.5,2433.0 320.0,2431.1 321.5,2429.1 322.9,2427.1 324.3,2425.0 325.7,2422.9 327.0,2420.8 328.4,2418.6 329.6,2416.4 330.9,2414.2 332.2,2412.0 333.4,2409.8 334.6,2407.5 335.8,2405.3 336.9,2403.0 338.1,2400.8 339.2,2398.5 340.4,2396.2 341.5,2394.0 342.5,2391.7 343.6,2389.4 344.7,2387.1 345.7,2384.8 346.8,2382.5 347.8,2380.2 348.8,2377.9 349.8,2375.6 350.8,2373.3 351.8,2371.0 352.7,2368.7 353.7,2366.3 354.6,2364.0 355.6,2361.7 356.5,2359.4 357.4,2357.0 358.3,2354.7 359.2,2352.3 360.1,2350.0 361.0,2347.7 361.9,2345.3 362.7,2343.0 363.6,2340.6 364.5,2338.3 365.3,2335.9 366.2,2333.6 367.0,2331.2 367.9,2328.9 368.7,2326.5 369.6,2324.2 370.4,2321.8 371.2,2319.5 372.1,2317.1 372.9,2314.8 373.7,2312.4 374.5,2310.0 375.4,2307.7 376.2,2305.3 377.0,2303.0 377.9,2300.6 378.7,2298.3 379.5,2295.9 380.4,2293.6 381.2,2291.2 382.0,2288.9 382.9,2286.6 383.7,2284.2 384.6,2281.9 385.5,2279.5 386.3,2277.2 387.2,2274.9 388.1,2272.5 389.0,2270.2 389.8,2267.9 390.7,2265.6 391.6,2263.2 392.6,2260.9 393.5,2258.6 394.4,2256.3 395.3,2254.0 396.3,2251.7 397.3,2249.4 398.2,2247.1 399.2,2244.8 400.2,2242.5 401.2,2240.3 402.2,2238.0 403.2,2235.7 404.2,2233.4 405.3,2231.2 406.3,2228.9 407.4,2226.6 408.4,2224.4 409.5,2222.1 410.6,2219.9 411.6,2217.6 412.7,2215.4 413.8,2213.1 414.9,2210.9 416.0,2208.6 417.1,2206.4 418.2,2204.2 419.3,2201.9 420.5,2199.7 421.6,2197.5 422.7,2195.2 423.8,2193.0 425.0,2190.8 426.1,2188.5 427.2,2186.3 428.4,2184.1 429.5,2181.9 430.7,2179.7 431.8,2177.4 433.0,2175.2 434.1,2173.0 435.3,2170.8 436.4,2168.5 437.6,2166.3 438.7,2164.1 439.9,2161.9 441.0,2159.7 442.2,2157.5 443.3,2155.2 444.4,2153.0 445.6,2150.8 446.7,2148.6 447.9,2146.3 449.0,2144.1 450.1,2141.9 451.3,2139.7 452.4,2137.4 453.5,2135.2 454.6,2133.0 455.7,2130.8 456.9,2128.5 458.0,2126.3 459.1,2124.1 460.2,2121.9 461.4,2119.6 462.5,2117.4 463.7,2115.2 464.8,2113.0 466.0,2110.8 467.1,2108.6 468.3,2106.4 469.5,2104.2 470.7,2102.0 471.9,2099.8 473.1,2097.6 474.3,2095.5 475.6,2093.3 476.8,2091.1 478.0,2089.0 479.3,2086.8 480.6,2084.7 481.8,2082.5 483.1,2080.4 484.4,2078.3 485.8,2076.2 487.1,2074.1 488.4,2071.9 489.8,2069.9 491.1,2067.8 492.5,2065.7 493.9,2063.6 495.3,2061.6 496.7,2059.5 498.1,2057.5 499.6,2055.4 501.1,2053.4 502.5,2051.4 504.0,2049.4 505.5,2047.4 507.0,2045.4 508.6,2043.4 510.1,2041.4 511.7,2039.5 513.3,2037.6 514.9,2035.6 516.5,2033.7 518.1,2031.8 519.8,2029.9 527.6,2029.9 534.2,2027.7 535.8,2025.8 537.3,2023.8 538.9,2021.9 540.5,2019.9 542.1,2018.0 543.7,2016.1 545.3,2014.1 546.9,2012.2 548.5,2010.3 550.1,2008.4 551.7,2006.5 553.4,2004.6 555.0,2002.6 556.7,2000.8 558.3,1998.9 560.0,1997.0 561.7,1995.1 563.4,1993.2 565.1,1991.4 566.8,1989.5 568.5,1987.7 570.2,1985.8 572.0,1984.0 573.7,1982.2 575.5,1980.4 577.2,1978.6 579.0,1976.8 580.8,1975.0 582.6,1973.2 584.4,1971.5 586.2,1969.7 588.0,1968.0 589.9,1966.3 591.7,1964.6 593.6,1962.9 595.5,1961.2 597.4,1959.5 599.3,1957.9 601.2,1956.2 603.1,1954.6 605.0,1953.0 607.0,1951.4 608.9,1949.9 610.9,1948.3 612.9,1946.8 614.9,1945.3 616.9,1943.7 618.9,1942.3 620.9,1940.8 623.0,1939.4 625.1,1937.9 627.1,1936.5 629.2,1935.1 631.3,1933.8 633.5,1932.4 635.6,1931.1 637.8,1929.8 639.9,1928.5 642.1,1927.2 644.3,1926.0 649.9,1929.9 654.3,1941.0 659.8,1953.2 665.4,1952.1 666.6,1949.8 667.9,1947.6 669.3,1945.3 670.6,1943.2 672.0,1941.1 673.4,1939.0 674.9,1936.9 676.4,1934.9 677.9,1932.9 679.5,1931.0 681.1,1929.1 682.7,1927.3 684.4,1925.4 686.1,1923.6 687.8,1921.9 689.5,1920.2 691.3,1918.5 693.1,1916.9 694.9,1915.2 696.8,1913.7 698.7,1912.1 700.6,1910.6 702.5,1909.1 704.5,1907.7 706.4,1906.3 708.4,1904.9 710.5,1903.5 712.5,1902.2 714.6,1900.9 716.7,1899.6 718.8,1898.4 720.9,1897.2 723.1,1896.0 725.2,1894.8 727.4,1893.7 729.6,1892.6 731.9,1891.5 734.1,1890.4 736.4,1889.4 738.6,1888.4 740.9,1887.4 743.2,1886.4 745.5,1885.5 747.9,1884.5 750.2,1883.6 752.6,1882.8 754.9,1881.9 757.3,1881.1 759.7,1880.2 762.1,1879.4 764.5,1878.7 766.9,1877.9 769.3,1877.1 771.8,1876.4 774.2,1875.7 776.6,1875.0 779.1,1874.3 781.6,1873.7 784.0,1873.0 786.5,1872.4 789.0,1871.8 791.5,1871.2 794.0,1870.6 796.4,1870.0 798.9,1869.5 801.4,1868.9 804.0,1868.4 806.5,1867.9 809.0,1867.3 811.5,1866.8 814.0,1866.4 816.5,1865.9 819.0,1865.4 821.5,1865.0 824.1,1864.5 826.6,1864.1 829.1,1863.7 831.6,1863.2 834.1,1862.8 836.6,1862.4 839.1,1862.0 841.6,1861.6 844.1,1861.3 846.6,1860.9 849.1,1860.5 851.6,1860.2 854.1,1859.8 856.6,1859.5 859.1,1859.1 861.5,1858.8 864.0,1858.4 866.4,1858.1 868.9,1857.7 871.3,1857.4 873.8,1857.1 876.2,1856.8 878.6,1856.4 881.0,1856.1 883.4,1855.8 885.8,1855.5 888.2,1855.1 890.5,1854.8 892.9,1854.5 900.0,1855.5 906.2,1859.2" fill="none" stroke="#000080" stroke-width="8.6" stroke-linejoin="round" stroke-linecap="round"/>
<polyline clip-path="url(#cb)" points="272.0,2457.0 275.0,2457.4 277.8,2457.6 280.5,2457.5 283.0,2457.2 285.4,2456.6 287.7,2455.9 289.8,2454.9 291.8,2453.7 293.7,2452.4 295.5,2451.0 297.2,2449.4 298.8,2447.7 300.3,2445.8 301.8,2444.0 303.3,2442.0 304.7,2440.0 306.0,2437.9 307.3,2435.9 308.6,2433.8 309.9,2431.7 311.2,2429.6 312.4,2427.4 313.6,2425.2 314.8,2423.1 316.0,2420.9 317.1,2418.7 318.3,2416.5 319.4,2414.2 320.5,2412.0 321.5,2409.7 322.6,2407.5 323.7,2405.2 324.7,2402.9 325.7,2400.6 326.8,2398.3 327.8,2396.0 328.8,2393.7 329.8,2391.3 330.8,2389.0 331.7,2386.7 332.7,2384.3 333.7,2382.0 334.6,2379.6 335.6,2377.3 336.6,2374.9 337.5,2372.6 338.5,2370.2 339.5,2367.9 340.4,2365.5 341.4,2363.2 342.4,2360.8 343.3,2358.5 344.3,2356.2 345.3,2353.8 346.3,2351.5 347.3,2349.2 348.3,2346.9 349.4,2344.6 350.4,2342.3 351.5,2340.0 352.5,2337.7 353.6,2335.4 354.7,2333.2 355.8,2330.9 356.9,2328.7 358.1,2326.5 359.2,2324.3 360.4,2322.1 361.6,2319.9 362.8,2317.7 364.0,2315.5 365.2,2313.4 366.4,2311.2 367.7,2309.1 368.9,2306.9 370.2,2304.8 371.5,2302.7 372.8,2300.6 374.0,2298.5 375.4,2296.4 376.7,2294.2 378.0,2292.2 379.3,2290.1 380.6,2288.0 382.0,2285.9 383.3,2283.8 384.7,2281.7 386.0,2279.6 387.4,2277.6 388.7,2275.5 390.1,2273.4 391.4,2271.3 392.8,2269.3 394.2,2267.2 395.5,2265.1 396.9,2263.0 398.3,2261.0 399.6,2258.9 401.0,2256.8 402.4,2254.7 403.7,2252.6 405.1,2250.5 406.5,2248.4 407.8,2246.3 409.2,2244.2 410.5,2242.1 411.9,2240.0 413.2,2237.9 414.5,2235.8 415.9,2233.7 417.2,2231.5 418.6,2229.4 419.9,2227.3 421.3,2225.2 422.6,2223.0 424.0,2220.9 425.3,2218.8 426.7,2216.7 428.0,2214.6 429.4,2212.4 430.7,2210.3 432.1,2208.2 433.4,2206.1 434.8,2204.0 436.2,2201.8 437.5,2199.7 438.9,2197.6 440.3,2195.5 441.7,2193.4 443.1,2191.3 444.5,2189.2 445.9,2187.2 447.3,2185.1 448.7,2183.0 450.1,2180.9 451.6,2178.9 453.0,2176.8 454.4,2174.7 455.9,2172.7 457.4,2170.7 458.8,2168.6 460.3,2166.6 461.8,2164.6 463.3,2162.6 464.8,2160.6 466.3,2158.6 467.9,2156.6 469.4,2154.6 470.9,2152.6 472.5,2150.7 474.1,2148.7 475.7,2146.8 477.2,2144.9 478.8,2142.9 480.4,2141.0 482.1,2139.1 483.7,2137.2 485.3,2135.3 487.0,2133.4 488.6,2131.5 490.3,2129.7 491.9,2127.8 493.6,2125.9 495.3,2124.1 497.0,2122.2 498.7,2120.4 500.4,2118.6 502.1,2116.8 503.8,2114.9 505.6,2113.1 507.3,2111.3 509.0,2109.5 510.8,2107.8 512.6,2106.0 514.3,2104.2 516.1,2102.5 517.9,2100.7 519.7,2098.9 521.5,2097.2 523.3,2095.5 525.1,2093.7 526.9,2092.0 528.7,2090.3 530.6,2088.6 532.4,2086.9 534.3,2085.2 536.1,2083.5 538.0,2081.8 539.8,2080.1 541.7,2078.5 543.6,2076.8 545.5,2075.1 547.3,2073.5 549.2,2071.8 551.1,2070.2 553.0,2068.6 554.9,2066.9 556.9,2065.3 558.8,2063.7 560.7,2062.1 562.6,2060.5 564.6,2058.9 566.5,2057.3 568.4,2055.7 570.4,2054.1 572.3,2052.5 574.3,2050.9 576.3,2049.4 578.2,2047.8 580.2,2046.2 582.2,2044.7 584.1,2043.1 586.1,2041.6 588.1,2040.1 590.1,2038.5 592.1,2037.0 594.1,2035.5 596.1,2033.9 598.1,2032.4 600.1,2030.9 602.1,2029.4 604.1,2027.9 606.1,2026.4 608.2,2024.9 610.2,2023.5 612.2,2022.0 614.2,2020.5 616.3,2019.1 618.3,2017.6 620.4,2016.2 622.4,2014.7 624.5,2013.3 626.6,2011.9 628.6,2010.5 630.7,2009.1 632.8,2007.7 634.9,2006.3 637.0,2005.0 639.1,2003.6 641.2,2002.3 643.3,2000.9 645.4,1999.6 647.5,1998.3 649.7,1997.0 651.8,1995.7 653.9,1994.4 656.1,1993.2 658.3,1991.9 660.4,1990.7 662.6,1989.5 664.8,1988.3 667.0,1987.1 669.2,1985.9 671.4,1984.7 673.6,1983.6 675.8,1982.5 678.1,1981.4 680.3,1980.4 682.6,1979.4 684.9,1978.5 687.2,1977.6 689.6,1976.8 691.9,1976.0 694.3,1975.3 696.8,1974.7 699.2,1974.2 701.7,1973.8 704.2,1973.5 706.8,1973.2 709.4,1973.1 712.0,1973.1 714.3,1972.0 716.5,1971.0 718.8,1969.9 721.1,1968.9 723.4,1967.9 725.7,1966.9 728.0,1965.8 730.3,1964.8 732.6,1963.8 734.8,1962.8 737.1,1961.9 739.5,1960.9 741.8,1959.9 744.1,1958.9 746.4,1958.0 748.7,1957.0 751.0,1956.1 753.3,1955.2 755.7,1954.2 758.0,1953.3 760.3,1952.4 762.6,1951.5 765.0,1950.6 767.3,1949.7 769.6,1948.9 772.0,1948.0 774.3,1947.1 776.7,1946.3 779.0,1945.4 781.4,1944.6 783.7,1943.7 786.1,1942.9 788.4,1942.1 790.8,1941.3 793.2,1940.5 795.5,1939.7 797.9,1938.9 800.3,1938.1 802.6,1937.3 805.0,1936.5 807.4,1935.8 809.8,1935.0 812.1,1934.2 814.5,1933.5 816.9,1932.8 819.3,1932.0 821.7,1931.3 824.1,1930.6 826.5,1929.9 828.9,1929.2 831.3,1928.5 833.7,1927.8 836.1,1927.1 838.5,1926.4 840.9,1925.7 843.3,1925.1 845.7,1924.4 848.1,1923.7 850.5,1923.1 852.9,1922.5 855.4,1921.8 857.8,1921.2 860.2,1920.6 862.6,1920.0 865.0,1919.4 867.5,1918.7 869.9,1918.2 872.3,1917.6 874.7,1917.0 877.2,1916.4 879.6,1915.8 882.0,1915.3 884.5,1914.7 886.9,1914.2 889.4,1913.6 891.8,1913.1 894.2,1912.5 896.7,1912.0 899.1,1911.5 901.6,1911.0 904.0,1910.4 906.5,1909.9 908.9,1909.4 911.4,1908.9 913.8,1908.5 916.3,1908.0 918.7,1907.5 921.2,1907.0 923.7,1906.6 926.1,1906.1 928.6,1905.6 931.0,1905.2 933.5,1904.8 936.0,1904.3 938.4,1903.9 940.9,1903.5 943.4,1903.0 945.8,1902.6 948.3,1902.2 950.8,1901.8 953.2,1901.4 955.7,1901.0 958.2,1900.6 960.7,1900.2 963.1,1899.9 965.6,1899.5 968.1,1899.1 970.6,1898.8 973.1,1898.4 975.5,1898.0 978.0,1897.7 980.5,1897.4 983.0,1897.0 985.5,1896.7 987.9,1896.4 990.4,1896.0 992.9,1895.7 995.4,1895.4 997.9,1895.1 1000.4,1894.8 1002.8,1894.5 1005.3,1894.2 1007.8,1893.9 1010.3,1893.6 1012.8,1893.4 1015.3,1893.1 1017.8,1892.8 1020.3,1892.5 1022.8,1892.3 1025.2,1892.0 1027.7,1891.8 1030.2,1891.5 1032.7,1891.3 1035.2,1891.1 1037.7,1890.8 1040.2,1890.6 1042.7,1890.4 1045.2,1890.2 1047.7,1889.9 1050.2,1889.7 1052.7,1889.5 1055.2,1889.3 1057.7,1889.1 1060.1,1888.9 1062.6,1888.7 1065.1,1888.6 1067.6,1888.4 1070.1,1888.2 1072.6,1888.0 1075.1,1887.9 1077.6,1887.7 1080.0,1888.2 1082.3,1888.9 1084.7,1889.7 1087.0,1890.6 1089.4,1891.7 1091.7,1892.8 1094.0,1893.9 1096.4,1895.1 1098.7,1896.3 1101.0,1897.5 1103.3,1898.7 1105.6,1899.7 1107.9,1900.8 1110.3,1901.7 1112.6,1902.4 1114.9,1903.1 1117.2,1903.6 1119.6,1903.8 1121.9,1903.9 1124.2,1903.7 1126.6,1903.3 1129.0,1902.6 1131.3,1901.6 1133.7,1900.3 1136.1,1898.6 1138.5,1896.6" fill="none" stroke="#008000" stroke-width="8.6" stroke-linejoin="round" stroke-linecap="round"/>
<polyline clip-path="url(#cb)" points="271.0,2456.5 287.0,2456.0 292.0,2455.0 293.0,2452.7 294.1,2450.5 295.2,2448.3 296.3,2446.0 297.5,2443.8 298.6,2441.6 299.8,2439.4 301.0,2437.3 302.2,2435.1 303.4,2432.9 304.7,2430.8 305.9,2428.6 307.2,2426.5 308.5,2424.4 309.8,2422.2 311.1,2420.1 312.4,2418.0 313.8,2415.9 315.1,2413.8 316.4,2411.7 317.8,2409.6 319.1,2407.5 320.5,2405.4 321.8,2403.2 323.2,2401.1 324.5,2399.0 325.9,2396.9 327.2,2394.8 328.6,2392.7 329.9,2390.6 331.3,2388.5 332.6,2386.4 333.9,2384.3 335.3,2382.1 336.6,2380.0 337.9,2377.9 339.2,2375.8 340.5,2373.6 341.9,2371.5 343.2,2369.4 344.5,2367.2 345.8,2365.1 347.1,2363.0 348.4,2360.8 349.7,2358.7 351.0,2356.6 352.3,2354.4 353.6,2352.3 354.9,2350.1 356.2,2348.0 357.5,2345.9 358.8,2343.7 360.1,2341.6 361.4,2339.4 362.8,2337.3 364.1,2335.1 365.4,2333.0 366.7,2330.9 368.0,2328.7 369.3,2326.6 370.6,2324.5 371.9,2322.3 373.2,2320.2 374.6,2318.1 375.9,2315.9 377.2,2313.8 378.5,2311.7 379.9,2309.5 381.2,2307.4 382.5,2305.3 383.9,2303.2 385.2,2301.1 386.6,2299.0 387.9,2296.8 389.3,2294.7 390.6,2292.6 392.0,2290.5 393.4,2288.4 394.7,2286.3 396.1,2284.2 397.5,2282.1 398.9,2280.0 400.3,2278.0 401.7,2275.9 403.1,2273.8 404.5,2271.7 405.9,2269.7 407.3,2267.6 408.7,2265.5 410.1,2263.5 411.6,2261.4 413.0,2259.3 414.4,2257.3 415.9,2255.2 417.3,2253.2 418.8,2251.2 420.2,2249.1 421.7,2247.1 423.2,2245.1 424.6,2243.0 426.1,2241.0 427.6,2239.0 429.1,2237.0 430.6,2235.0 432.1,2233.0 433.6,2231.0 435.1,2229.0 436.6,2227.0 438.2,2225.0 439.7,2223.1 441.2,2221.1 442.8,2219.1 444.3,2217.1 445.9,2215.2 447.4,2213.2 449.0,2211.3 450.6,2209.3 452.1,2207.4 453.7,2205.5 455.3,2203.5 456.9,2201.6 458.5,2199.7 460.1,2197.8 461.7,2195.9 463.3,2194.0 465.0,2192.1 466.6,2190.2 468.2,2188.3 469.9,2186.4 471.5,2184.5 473.2,2182.7 474.9,2180.8 476.5,2178.9 478.2,2177.1 479.9,2175.3 481.6,2173.4 483.3,2171.6 485.0,2169.8 486.7,2167.9 488.5,2166.1 490.2,2164.3 491.9,2162.5 493.7,2160.7 495.4,2158.9 497.2,2157.2 498.9,2155.4 500.7,2153.6 502.5,2151.9 504.3,2150.1 506.1,2148.4 507.9,2146.6 509.7,2144.9 511.5,2143.2 513.3,2141.4 515.1,2139.7 517.0,2138.0 518.8,2136.3 520.7,2134.6 522.5,2132.9 524.4,2131.3 526.2,2129.6 528.1,2127.9 530.0,2126.3 531.9,2124.6 533.8,2123.0 535.7,2121.3 537.6,2119.7 539.5,2118.1 541.4,2116.5 543.3,2114.9 545.3,2113.2 547.2,2111.7 549.1,2110.1 551.1,2108.5 553.0,2106.9 555.0,2105.3 557.0,2103.8 558.9,2102.2 560.9,2100.7 562.9,2099.1 564.9,2097.6 566.9,2096.1 568.9,2094.6 570.9,2093.1 572.9,2091.6 574.9,2090.1 576.9,2088.6 578.9,2087.1 581.0,2085.6 583.0,2084.2 585.1,2082.7 587.1,2081.3 589.2,2079.8 591.2,2078.4 593.3,2077.0 595.4,2075.6 597.4,2074.2 599.5,2072.8 601.6,2071.4 603.7,2070.0 605.8,2068.6 607.9,2067.2 610.0,2065.9 612.1,2064.5 614.2,2063.2 616.4,2061.9 618.5,2060.5 620.6,2059.2 622.8,2057.9 624.9,2056.6 627.0,2055.3 629.2,2054.0 631.4,2052.7 633.5,2051.5 635.7,2050.2 637.9,2049.0 640.0,2047.7 642.2,2046.5 644.4,2045.3 646.6,2044.0 648.8,2042.8 651.0,2041.6 653.2,2040.4 655.4,2039.3 657.6,2038.1 659.8,2036.9 662.0,2035.8 664.3,2034.6 666.5,2033.5 668.7,2032.4 671.0,2031.2 673.2,2030.1 675.5,2029.0 677.7,2027.9 680.0,2026.8 682.2,2025.8 684.5,2024.7 686.8,2023.7 689.0,2022.6 691.3,2021.6 693.6,2020.5 695.9,2019.5 698.2,2018.5 700.5,2017.5 702.8,2016.5 705.1,2015.5 707.4,2014.6 709.7,2013.6 712.0,2012.7 714.3,2011.7 716.6,2010.8 718.9,2009.9 721.3,2008.9 723.6,2008.0 725.9,2007.2 728.3,2006.3 730.6,2005.4 733.0,2004.5 735.3,2003.7 737.7,2002.8 740.0,2002.0 742.4,2001.2 744.8,2000.4 747.1,1999.6 749.5,1998.8 751.9,1998.0 754.2,1997.2 756.6,1996.4 759.0,1995.7 761.4,1994.9 763.8,1994.2 766.2,1993.5 768.6,1992.8 771.0,1992.1 773.4,1991.4 775.8,1990.7 778.2,1990.0 780.6,1989.4 783.0,1988.7 785.4,1988.1 787.9,1987.5 790.3,1986.9 792.7,1986.2 795.1,1985.7 797.6,1985.1 800.0,1984.5 812.2,1988.1 818.8,1986.5 821.0,1985.3 823.3,1984.1 825.6,1982.9 827.8,1981.7 830.1,1980.6 832.4,1979.5 834.7,1978.4 837.0,1977.3 839.3,1976.2 841.6,1975.2 843.9,1974.2 846.2,1973.2 848.6,1972.2 850.9,1971.3 853.2,1970.3 855.6,1969.4 857.9,1968.5 860.3,1967.6 862.6,1966.7 865.0,1965.9 867.4,1965.1 869.7,1964.2 872.1,1963.4 874.5,1962.7 876.9,1961.9 879.3,1961.1 881.7,1960.4 884.1,1959.7 886.5,1959.0 888.9,1958.3 891.3,1957.6 893.7,1956.9 896.2,1956.3 898.6,1955.6 901.0,1955.0 903.5,1954.4 905.9,1953.8 908.3,1953.2 910.8,1952.6 913.2,1952.0 915.7,1951.5 918.1,1950.9 920.6,1950.4 923.0,1949.8 925.5,1949.3 928.0,1948.8 930.4,1948.3 932.9,1947.8 935.4,1947.3 937.9,1946.8 940.3,1946.4 942.8,1945.9 945.3,1945.5 947.8,1945.0 950.3,1944.6 952.8,1944.1 955.2,1943.7 957.7,1943.3 960.2,1942.8 962.7,1942.4 965.2,1942.0 967.7,1941.6 970.2,1941.2 972.7,1940.8 975.2,1940.4 977.7,1940.0 980.2,1939.6 982.7,1939.2 985.2,1938.8 987.7,1938.4 990.2,1938.0 992.7,1937.7 995.2,1937.3 997.7,1936.9 1000.2,1936.5 1002.7,1936.1 1005.2,1935.7 1007.7,1935.4 1010.2,1935.0 1012.7,1934.6 1015.1,1934.2 1017.6,1933.8 1020.1,1933.4 1022.6,1933.0 1025.1,1932.6 1027.6,1932.2 1030.1,1931.8 1032.6,1931.4 1035.1,1931.0 1037.5,1930.5 1040.0,1930.1 1042.5,1929.7 1045.0,1929.2 1047.5,1928.8 1049.9,1928.4 1052.4,1927.9 1054.9,1927.4 1057.3,1927.0 1059.8,1926.5 1065.4,1927.6 1070.9,1936.5 1077.6,1945.9 1082.0,1944.8 1084.1,1943.4 1086.3,1942.1 1088.5,1940.9 1090.6,1939.7 1092.8,1938.5 1095.0,1937.3 1097.3,1936.2 1099.5,1935.1 1101.7,1934.1 1104.0,1933.1 1106.3,1932.1 1108.6,1931.2 1110.9,1930.3 1113.2,1929.4 1115.5,1928.5 1117.8,1927.7 1120.1,1926.9 1122.5,1926.2 1124.8,1925.4 1127.2,1924.7 1129.6,1924.0 1132.0,1923.3 1134.3,1922.7 1136.7,1922.1 1139.1,1921.5 1141.5,1920.9 1144.0,1920.3 1146.4,1919.7 1148.8,1919.2 1151.2,1918.7 1153.7,1918.2 1156.1,1917.7 1158.5,1917.2 1161.0,1916.7 1163.4,1916.3 1165.9,1915.8 1168.4,1915.4 1170.8,1915.0 1173.3,1914.6 1175.7,1914.1 1178.2,1913.7 1180.7,1913.3 1183.1,1912.9 1185.6,1912.5 1188.1,1912.1 1190.5,1911.8 1193.0,1911.4 1195.5,1911.0 1198.0,1910.6 1200.4,1910.2 1202.9,1909.9 1205.4,1909.5 1207.8,1909.1 1210.3,1908.8 1212.8,1908.4 1215.3,1908.1 1217.7,1907.7 1220.2,1907.4 1222.7,1907.0 1225.2,1906.7 1227.6,1906.4 1230.1,1906.0 1232.6,1905.7 1235.1,1905.4 1237.6,1905.0 1240.0,1904.7 1242.5,1904.4 1245.0,1904.1 1247.5,1903.8 1250.0,1903.5 1252.5,1903.2 1254.9,1902.9 1257.4,1902.6 1259.9,1902.3 1262.4,1902.0 1264.9,1901.7 1267.4,1901.4 1269.9,1901.2 1272.3,1900.9 1274.8,1900.6 1277.3,1900.3 1279.8,1900.1 1282.3,1899.8 1284.8,1899.5 1287.3,1899.3 1289.8,1899.0 1292.3,1898.7 1294.8,1898.5 1297.2,1898.2 1299.7,1898.0 1302.2,1897.7 1304.7,1897.5 1307.2,1897.3 1309.7,1897.0 1312.2,1896.8 1314.7,1896.5 1317.2,1896.3 1319.7,1896.1 1322.2,1895.9 1324.7,1895.6 1327.2,1895.4 1329.7,1895.2 1332.2,1895.0 1334.7,1894.8 1337.2,1894.5 1339.7,1894.3 1342.2,1894.1 1344.7,1893.9 1347.2,1893.7 1349.6,1893.5 1352.1,1893.3 1354.6,1893.1 1357.1,1892.9 1359.6,1892.7 1362.1,1892.5 1364.6,1892.3 1367.1,1892.1 1369.6,1891.9 1372.1,1891.7 1374.6,1891.6 1377.1,1891.4 1379.6,1891.2 1382.1,1891.0 1384.6,1890.8 1387.1,1890.6 1389.6,1890.5 1392.1,1890.3 1394.6,1890.1 1397.2,1889.9 1399.7,1889.8 1402.2,1889.6 1404.7,1889.4 1407.2,1889.3 1409.7,1889.1 1412.2,1888.9 1414.7,1888.8 1417.2,1888.6 1419.7,1888.4 1422.2,1888.3 1424.7,1888.1 1427.2,1888.0 1429.7,1887.8 1432.2,1887.6 1434.7,1887.5 1437.2,1887.3 1439.7,1887.2 1442.2,1887.0 1444.7,1886.9 1447.2,1886.7 1449.7,1886.6 1452.2,1886.4 1454.7,1886.3 1457.2,1886.1 1459.7,1886.0 1462.2,1885.8 1464.7,1885.7 1467.2,1885.5 1469.7,1885.4 1472.2,1885.3 1474.7,1885.1 1477.2,1885.0 1479.7,1884.8 1482.2,1884.7 1484.7,1884.5 1487.2,1884.4 1489.7,1884.3 1492.2,1884.1 1494.7,1884.0 1497.2,1883.9 1499.7,1883.7 1502.2,1883.6 1504.7,1883.5 1507.2,1883.3 1509.7,1883.2 1512.2,1883.1 1514.7,1882.9 1517.2,1882.8 1519.7,1882.7 1522.2,1882.5 1524.7,1882.4 1527.2,1882.3 1529.7,1882.2 1532.2,1882.0 1534.7,1881.9 1537.2,1881.8 1539.7,1881.7 1542.2,1881.5 1544.7,1881.4 1547.2,1881.3 1549.7,1881.2 1552.2,1881.1 1554.7,1880.9 1557.2,1880.8 1559.7,1880.7 1562.2,1880.6 1564.7,1880.5 1567.2,1880.4 1569.7,1880.2 1572.2,1880.1 1574.7,1880.0 1577.2,1879.9 1579.7,1879.8 1582.2,1879.7 1584.7,1879.6 1587.2,1879.5 1589.7,1879.3 1592.2,1879.2 1594.7,1879.1 1597.2,1879.0 1599.7,1878.9 1602.2,1878.8 1604.7,1878.7 1607.2,1878.6 1609.7,1878.5 1612.2,1878.4 1614.7,1878.3 1617.2,1878.2 1619.7,1878.1 1622.2,1878.0 1624.7,1877.9 1627.2,1877.8 1629.7,1877.7 1632.2,1877.6 1634.7,1877.5 1637.2,1877.4 1639.7,1877.3 1642.2,1877.2 1644.7,1877.1 1647.2,1877.1 1649.7,1877.0 1652.2,1876.9 1654.7,1876.8 1657.2,1876.7 1659.7,1876.6 1662.2,1876.5 1664.7,1876.4 1667.2,1876.3 1669.7,1876.3 1672.2,1876.2 1674.7,1876.1 1677.2,1876.0 1679.7,1875.9 1682.2,1875.8 1684.7,1875.8 1687.2,1875.7 1689.7,1875.6 1692.2,1875.5 1694.7,1875.4 1697.2,1875.4 1699.7,1875.3 1702.2,1875.2 1704.7,1875.1 1707.2,1875.1 1709.7,1875.0 1712.2,1874.9 1714.7,1874.8 1717.2,1874.8 1719.7,1874.7 1722.2,1874.6 1724.7,1874.6 1727.2,1874.5 1729.7,1874.4 1732.2,1874.3 1734.7,1874.3 1737.2,1874.2 1739.7,1874.1 1742.2,1874.1 1744.7,1874.0 1747.2,1873.9 1749.7,1873.9 1752.2,1873.8 1754.7,1873.8 1757.2,1873.7 1759.7,1873.6 1762.2,1873.6 1764.7,1873.5 1767.2,1873.5 1769.7,1873.4 1772.2,1873.3 1774.7,1873.3 1777.2,1873.2 1779.7,1873.2 1782.2,1873.1 1784.7,1873.1 1787.2,1873.0 1789.7,1873.0 1792.2,1872.9 1794.7,1872.9 1797.2,1872.8 1799.7,1872.8 1802.2,1872.7 1804.7,1872.7 1807.2,1872.6 1809.7,1872.6 1812.2,1872.5 1814.7,1872.5 1817.2,1872.4 1819.7,1872.4 1822.2,1872.3 1824.7,1872.3 1827.2,1872.2 1829.7,1872.2 1832.2,1872.2 1834.7,1872.1 1837.2,1872.1 1839.7,1872.0 1842.2,1872.0 1844.7,1872.0 1847.2,1871.9 1849.7,1871.9 1852.2,1871.9 1854.7,1871.8 1857.2,1871.8 1859.7,1871.7 1862.2,1871.7 1864.7,1871.7 1867.2,1871.6 1869.7,1871.6 1872.2,1871.6 1874.7,1871.6 1877.2,1871.5 1879.7,1871.5 1882.2,1871.5 1884.7,1871.4 1887.2,1871.4 1889.7,1871.4 1892.2,1871.4 1894.7,1871.3 1897.2,1871.3 1899.7,1871.3 1902.2,1871.3 1904.7,1871.2 1907.2,1871.2 1909.7,1871.2 1912.2,1871.2 1914.7,1871.1 1917.2,1871.1 1919.7,1871.1 1922.2,1871.1 1924.7,1871.1 1927.2,1871.1 1929.7,1871.0 1932.2,1871.0 1934.7,1871.0 1937.2,1871.0 1939.7,1871.0 1942.2,1871.0 1944.7,1870.9 1947.2,1870.9 1949.7,1870.9 1952.2,1870.9 1954.7,1870.9 1957.2,1870.9 1959.7,1870.9 1962.2,1870.9 1964.7,1870.9 1967.2,1870.9 1969.7,1870.8 1972.2,1870.8 1974.7,1870.8 1977.2,1870.8 1979.7,1870.8 1982.2,1870.8 1984.7,1870.8 1987.2,1870.8 1989.7,1870.8 1992.2,1870.8 1994.7,1870.8 1997.2,1870.8 1999.7,1870.8 2002.2,1870.8 2004.7,1870.8 2007.2,1870.8 2009.7,1870.8 2012.2,1870.8 2014.7,1870.8 2017.2,1870.8 2019.7,1870.8 2022.2,1870.8 2024.7,1870.8 2027.2,1870.8 2029.8,1870.9 2032.3,1870.9 2034.8,1870.9 2037.3,1870.9 2039.8,1870.9 2042.3,1870.9 2044.8,1870.9 2047.3,1870.9 2049.8,1870.9 2052.3,1870.9 2054.8,1871.0 2057.3,1871.0 2059.8,1871.0 2062.3,1871.0 2064.8,1871.0 2067.3,1871.0 2069.8,1871.0 2072.3,1871.1 2074.8,1871.1 2077.3,1871.1 2079.8,1871.1 2082.3,1871.1 2084.8,1871.2 2087.3,1871.2 2089.8,1871.2 2092.3,1871.2 2094.9,1871.2 2097.4,1871.3 2099.9,1871.3 2102.4,1871.3 2104.9,1871.3 2107.4,1871.4 2109.9,1871.4 2112.4,1871.4 2114.9,1871.4 2117.4,1871.5 2119.9,1871.5 2122.4,1871.5 2124.9,1871.5 2127.4,1871.6 2129.9,1871.6 2132.4,1871.6 2134.9,1871.7 2137.4,1871.7 2139.9,1871.7 2142.5,1871.8 2145.0,1871.8 2147.5,1871.8 2150.0,1871.9 2152.5,1871.9 2155.0,1871.9 2157.5,1872.0 2160.0,1872.0 2169.4,1874.1" fill="none" stroke="#8000ff" stroke-width="8.6" stroke-linejoin="round" stroke-linecap="round"/>
<text class="t" x="1347" y="2637.6" font-size="64" text-anchor="middle">Strain (%)</text>
<text class="t" transform="translate(92,1919) rotate(-90)" x="0" y="0" font-size="64" text-anchor="middle">Stress (MPa)</text>
<rect x="1891.8" y="1419.1" width="256.2" height="367.6" fill="none" stroke="#000" stroke-width="1.8"/>
<line x1="1898.3" y1="1452.4" x2="2006.7" y2="1452.4" stroke="#ff0000" stroke-width="8.6" stroke-linecap="round"/>
<text class="t" transform="translate(2019.6,1468.2) scale(1,1.03)" x="0" y="0" font-size="49.5">100:0</text>
<line x1="1898.3" y1="1512.6" x2="2006.7" y2="1512.6" stroke="#0000ff" stroke-width="8.6" stroke-linecap="round"/>
<text class="t" transform="translate(2019.6,1528.4) scale(1,1.03)" x="0" y="0" font-size="49.5">90:10</text>
<line x1="1898.3" y1="1572.8" x2="2006.7" y2="1572.8" stroke="#ff00ff" stroke-width="8.6" stroke-linecap="round"/>
<text class="t" transform="translate(2019.6,1588.6) scale(1,1.03)" x="0" y="0" font-size="49.5">80:20</text>
<line x1="1898.3" y1="1633.0" x2="2006.7" y2="1633.0" stroke="#000080" stroke-width="8.6" stroke-linecap="round"/>
<text class="t" transform="translate(2019.6,1648.8) scale(1,1.03)" x="0" y="0" font-size="49.5">70:30</text>
<line x1="1898.3" y1="1693.2" x2="2006.7" y2="1693.2" stroke="#008000" stroke-width="8.6" stroke-linecap="round"/>
<text class="t" transform="translate(2019.6,1709.0) scale(1,1.03)" x="0" y="0" font-size="49.5">60:40</text>
<line x1="1898.3" y1="1753.4" x2="2006.7" y2="1753.4" stroke="#8000ff" stroke-width="8.6" stroke-linecap="round"/>
<text class="t" transform="translate(2019.6,1769.2) scale(1,1.03)" x="0" y="0" font-size="49.5">50:50</text>
</g>
<text class="c" y="1339.2"><tspan x="1208.3" font-size="86">(</tspan><tspan x="1234.3" font-size="84" font-weight="bold">a</tspan><tspan x="1273.9" font-size="86">)</tspan></text>
<text class="c" y="2773.6"><tspan x="1202.6" font-size="86">(</tspan><tspan x="1229.8" font-size="84" font-weight="bold">b</tspan><tspan x="1279.5" font-size="86">)</tspan></text>
<g fill="#fff" shape-rendering="crispEdges">
<rect x="164.26" y="689.42" width="10.43" height="6.48"/>
<rect x="179.38" y="689.42" width="9.88" height="6.48"/>
<rect x="164.26" y="509.92" width="10.43" height="6.48"/>
<rect x="179.38" y="509.92" width="9.88" height="6.48"/>
<rect x="355.68" y="1113.52" width="10.43" height="6.48"/>
<rect x="370.80" y="1113.52" width="9.88" height="6.48"/>
<rect x="1445.92" y="1113.52" width="10.43" height="6.48"/>
<rect x="1461.04" y="1113.52" width="9.88" height="6.48"/>
<rect x="1570.55" y="1113.52" width="10.43" height="6.48"/>
<rect x="1585.67" y="1113.52" width="9.88" height="6.48"/>
<rect x="1595.59" y="1113.52" width="10.43" height="6.48"/>
<rect x="1610.72" y="1113.52" width="9.88" height="6.48"/>
<rect x="1691.42" y="1113.52" width="10.43" height="6.48"/>
<rect x="1706.54" y="1113.52" width="9.88" height="6.48"/>
<rect x="1814.12" y="1113.52" width="10.43" height="6.48"/>
<rect x="1829.24" y="1113.52" width="9.88" height="6.48"/>
<rect x="1936.92" y="1113.52" width="10.43" height="6.48"/>
<rect x="1952.04" y="1113.52" width="9.88" height="6.48"/>
<rect x="2059.62" y="1113.52" width="10.43" height="6.48"/>
<rect x="2074.74" y="1113.52" width="9.88" height="6.48"/>
<rect x="2182.32" y="1113.52" width="10.43" height="6.48"/>
<rect x="2197.44" y="1113.52" width="9.88" height="6.48"/>
<rect x="2305.12" y="1113.52" width="10.43" height="6.48"/>
<rect x="2320.24" y="1113.52" width="9.88" height="6.48"/>
<g transform="translate(2237.9,81.3) scale(1,1.02)">
<rect x="102.89" y="-5.05" width="10.07" height="6.35"/>
<rect x="117.49" y="-5.05" width="9.54" height="6.35"/>
</g>
<g transform="translate(2237.9,81.3) scale(1,1.02)">
<rect x="127.07" y="-5.05" width="10.07" height="6.35"/>
<rect x="141.67" y="-5.05" width="9.54" height="6.35"/>
</g>
<rect x="173.76" y="2181.12" width="10.43" height="6.48"/>
<rect x="188.88" y="2181.12" width="9.88" height="6.48"/>
<rect x="173.76" y="2037.82" width="10.43" height="6.48"/>
<rect x="188.88" y="2037.82" width="9.88" height="6.48"/>
<rect x="1589.98" y="2534.32" width="10.43" height="6.48"/>
<rect x="1605.10" y="2534.32" width="9.88" height="6.48"/>
<rect x="1859.28" y="2534.32" width="10.43" height="6.48"/>
<rect x="1874.40" y="2534.32" width="9.88" height="6.48"/>
<rect x="2128.58" y="2534.32" width="10.43" height="6.48"/>
<rect x="2143.70" y="2534.32" width="9.88" height="6.48"/>
<rect x="2397.98" y="2534.32" width="10.43" height="6.48"/>
<rect x="2413.10" y="2534.32" width="9.88" height="6.48"/>
<g transform="translate(2019.6,1468.2) scale(1,1.03)">
<rect x="2.48" y="-5.00" width="9.92" height="6.30"/>
<rect x="16.87" y="-5.00" width="9.40" height="6.30"/>
</g>
<g transform="translate(2019.6,1528.4) scale(1,1.03)">
<rect x="71.26" y="-5.00" width="9.92" height="6.30"/>
<rect x="85.66" y="-5.00" width="9.40" height="6.30"/>
</g>
</g>
</svg></body></html>
